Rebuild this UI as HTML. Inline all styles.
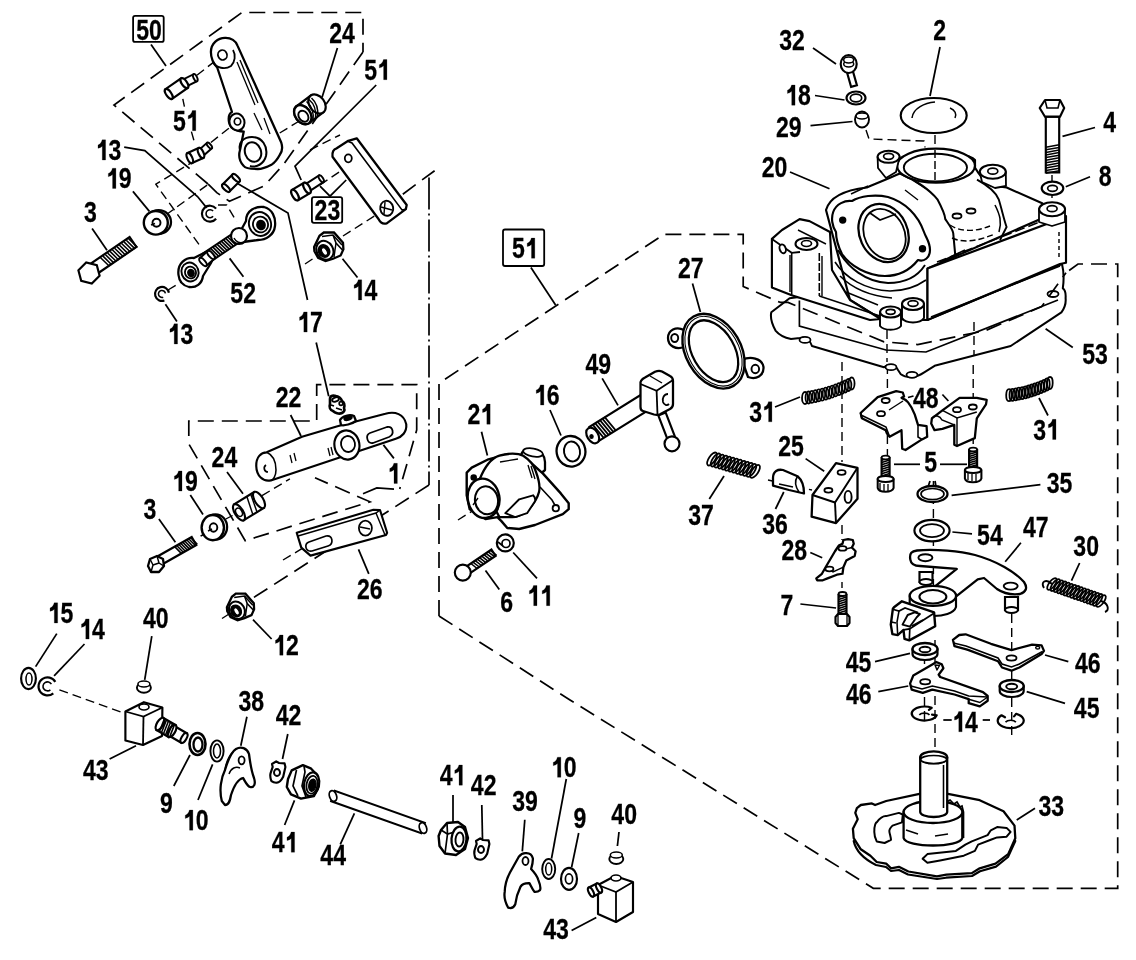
<!DOCTYPE html>
<html><head><meta charset="utf-8"><style>
html,body{margin:0;padding:0;background:#fff;overflow:hidden;}
svg{display:block;filter:grayscale(1)}
text{font-family:"Liberation Sans",sans-serif;font-weight:bold;fill:#000;}
</style></head><body>
<svg width="1136" height="960" viewBox="0 0 1136 960">
<rect width="1136" height="960" fill="#fff"/>
<path d="M208.0,184.0 L114.0,105.0 L242.0,12.5 L363.0,12.5 L363.0,52.0" fill="none" stroke="#000" stroke-width="1.7" stroke-dasharray="16 8"/>
<path d="M363.0,52.0 L283.6,164.5 L264.3,185.8 L229.4,201.3 L216.8,192.6 L208.0,184.0" fill="none" stroke="#000" stroke-width="1.7" stroke-dasharray="16 8"/>
<path d="M429.0,177.5 L429.0,485.0" fill="none" stroke="#000" stroke-width="1.7" stroke-dasharray="32 4 2 4"/>
<path d="M402.8,194.2 L434.6,170.7" fill="none" stroke="#000" stroke-width="1.7" stroke-dasharray="16 8"/>
<path d="M429.0,485.0 L239.7,606.5" fill="none" stroke="#000" stroke-width="1.7" stroke-dasharray="16 8"/>
<path d="M188.8,436.0 L188.8,421.0 L316.7,421.0 L316.7,384.6 L416.7,384.6 L416.7,430.0 L399.7,489.0" fill="none" stroke="#000" stroke-width="1.7" stroke-dasharray="16 8"/>
<path d="M189.2,444.6 L245.2,540.7 L370.0,501.8 L315.0,477.8" fill="none" stroke="#000" stroke-width="1.7" stroke-dasharray="16 8"/>
<path d="M439.0,616.0 L439.0,383.2 L664.0,234.3 L743.2,234.3 L743.2,286.5 L780.0,302.4" fill="none" stroke="#000" stroke-width="1.7" stroke-dasharray="16 8"/>
<path d="M439.0,616.0 L570.0,700.0 L873.3,888.3 L1117.7,888.3 L1117.7,264.0 L1078.0,264.0 L1066.0,272.7" fill="none" stroke="#000" stroke-width="1.7" stroke-dasharray="16 8"/>
<path d="M151.0,44.5 L166.0,66.0" fill="none" stroke="#000" stroke-width="1.75"/>
<path d="M337.4,48.0 L322.0,97.5" fill="none" stroke="#000" stroke-width="1.75"/>
<path d="M376.2,85.0 L295.0,166.2 L301.2,180.0" fill="none" stroke="#000" stroke-width="1.75"/>
<path d="M124.2,147.2 L144.8,150.6 L197.5,196.5 L206.7,207.9" fill="none" stroke="#000" stroke-width="1.75"/>
<path d="M132.9,191.4 L149.4,211.4" fill="none" stroke="#000" stroke-width="1.75"/>
<path d="M92.1,228.6 L107.0,250.3" fill="none" stroke="#000" stroke-width="1.75"/>
<path d="M320.0,186.2 L330.0,196.2 L346.2,180.0" fill="none" stroke="#000" stroke-width="1.75"/>
<path d="M342.5,258.7 L357.5,277.5" fill="none" stroke="#000" stroke-width="1.75"/>
<path d="M229.6,258.4 L243.4,276.7" fill="none" stroke="#000" stroke-width="1.75"/>
<path d="M165.4,304.2 L176.9,321.4" fill="none" stroke="#000" stroke-width="1.75"/>
<path d="M235.0,182.0 L288.0,213.0 L307.5,300.0" fill="none" stroke="#000" stroke-width="1.75"/>
<path d="M316.2,342.5 L328.7,396.2" fill="none" stroke="#000" stroke-width="1.75"/>
<path d="M290.6,415.0 L301.0,436.0" fill="none" stroke="#000" stroke-width="1.75"/>
<path d="M227.0,472.0 L243.0,493.8" fill="none" stroke="#000" stroke-width="1.75"/>
<path d="M190.3,495.0 L203.0,514.4" fill="none" stroke="#000" stroke-width="1.75"/>
<path d="M158.9,519.1 L175.4,542.2" fill="none" stroke="#000" stroke-width="1.75"/>
<path d="M383.4,444.9 L393.9,458.4" fill="none" stroke="#000" stroke-width="1.75"/>
<path d="M394.0,489.2 L376.8,488.0 L363.0,493.8" fill="none" stroke="#000" stroke-width="1.75"/>
<path d="M358.5,549.4 L368.8,573.9" fill="none" stroke="#000" stroke-width="1.75"/>
<path d="M253.0,619.7 L271.6,639.0" fill="none" stroke="#000" stroke-width="1.75"/>
<path d="M56.8,633.6 L35.6,666.6" fill="none" stroke="#000" stroke-width="1.75"/>
<path d="M84.5,644.0 L54.1,675.8" fill="none" stroke="#000" stroke-width="1.75"/>
<path d="M151.8,636.2 L144.7,679.8" fill="none" stroke="#000" stroke-width="1.75"/>
<path d="M109.6,759.0 L136.0,745.8" fill="none" stroke="#000" stroke-width="1.75"/>
<path d="M190.0,755.0 L173.8,786.0" fill="none" stroke="#000" stroke-width="1.75"/>
<path d="M212.6,764.3 L198.0,800.0" fill="none" stroke="#000" stroke-width="1.75"/>
<path d="M246.9,716.7 L240.8,745.8" fill="none" stroke="#000" stroke-width="1.75"/>
<path d="M287.8,734.0 L282.5,759.0" fill="none" stroke="#000" stroke-width="1.75"/>
<path d="M294.5,800.4 L284.6,825.0" fill="none" stroke="#000" stroke-width="1.75"/>
<path d="M354.4,813.4 L340.3,844.4" fill="none" stroke="#000" stroke-width="1.75"/>
<path d="M453.0,795.0 L453.0,823.0" fill="none" stroke="#000" stroke-width="1.75"/>
<path d="M481.8,805.0 L482.5,839.0" fill="none" stroke="#000" stroke-width="1.75"/>
<path d="M524.8,819.7 L522.3,851.4" fill="none" stroke="#000" stroke-width="1.75"/>
<path d="M566.3,779.0 L551.5,858.5" fill="none" stroke="#000" stroke-width="1.75"/>
<path d="M578.7,833.0 L571.6,867.3" fill="none" stroke="#000" stroke-width="1.75"/>
<path d="M619.0,832.0 L617.4,846.0" fill="none" stroke="#000" stroke-width="1.75"/>
<path d="M571.6,930.6 L596.3,917.6" fill="none" stroke="#000" stroke-width="1.75"/>
<path d="M530.9,267.5 L555.6,305.0" fill="none" stroke="#000" stroke-width="1.75"/>
<path d="M692.5,283.4 L700.4,311.9" fill="none" stroke="#000" stroke-width="1.75"/>
<path d="M602.2,378.4 L618.0,405.4" fill="none" stroke="#000" stroke-width="1.75"/>
<path d="M550.0,410.0 L561.0,435.5" fill="none" stroke="#000" stroke-width="1.75"/>
<path d="M481.5,431.7 L487.4,455.5" fill="none" stroke="#000" stroke-width="1.75"/>
<path d="M513.2,552.5 L537.0,578.3" fill="none" stroke="#000" stroke-width="1.75"/>
<path d="M485.5,570.4 L499.3,589.4" fill="none" stroke="#000" stroke-width="1.75"/>
<path d="M724.0,476.0 L709.3,499.0" fill="none" stroke="#000" stroke-width="1.75"/>
<path d="M783.8,492.0 L775.5,509.0" fill="none" stroke="#000" stroke-width="1.75"/>
<path d="M805.6,458.6 L824.2,471.3" fill="none" stroke="#000" stroke-width="1.75"/>
<path d="M810.3,552.5 L822.2,557.7" fill="none" stroke="#000" stroke-width="1.75"/>
<path d="M800.4,604.0 L836.1,608.0" fill="none" stroke="#000" stroke-width="1.75"/>
<path d="M775.0,407.0 L800.0,397.0" fill="none" stroke="#000" stroke-width="1.75"/>
<path d="M1039.0,398.0 L1048.0,415.5" fill="none" stroke="#000" stroke-width="1.75"/>
<path d="M908.0,397.5 L913.5,396.0" fill="none" stroke="#000" stroke-width="1.75"/>
<path d="M942.4,394.5 L948.4,401.0" fill="none" stroke="#000" stroke-width="1.75"/>
<path d="M894.0,464.3 L920.0,464.3" fill="none" stroke="#000" stroke-width="1.75"/>
<path d="M940.0,464.3 L967.0,464.3" fill="none" stroke="#000" stroke-width="1.75"/>
<path d="M951.6,495.4 L1040.4,484.6" fill="none" stroke="#000" stroke-width="1.75"/>
<path d="M952.4,532.0 L972.0,533.8" fill="none" stroke="#000" stroke-width="1.75"/>
<path d="M1020.9,542.8 L1005.2,561.7" fill="none" stroke="#000" stroke-width="1.75"/>
<path d="M1079.6,563.0 L1071.5,580.7" fill="none" stroke="#000" stroke-width="1.75"/>
<path d="M875.0,661.7 L910.0,653.3" fill="none" stroke="#000" stroke-width="1.75"/>
<path d="M878.3,691.7 L908.3,686.0" fill="none" stroke="#000" stroke-width="1.75"/>
<path d="M943.3,720.0 L951.7,720.0" fill="none" stroke="#000" stroke-width="1.75"/>
<path d="M982.7,720.0 L990.0,720.0" fill="none" stroke="#000" stroke-width="1.75"/>
<path d="M1045.0,655.0 L1068.3,661.7" fill="none" stroke="#000" stroke-width="1.75"/>
<path d="M1026.7,691.7 L1065.0,703.3" fill="none" stroke="#000" stroke-width="1.75"/>
<path d="M1016.7,820.0 L1035.0,808.3" fill="none" stroke="#000" stroke-width="1.75"/>
<path d="M813.0,48.0 L836.0,64.0" fill="none" stroke="#000" stroke-width="1.75"/>
<path d="M815.0,95.5 L844.5,100.0" fill="none" stroke="#000" stroke-width="1.75"/>
<path d="M810.5,125.7 L852.5,121.5" fill="none" stroke="#000" stroke-width="1.75"/>
<path d="M940.0,47.0 L930.0,96.0" fill="none" stroke="#000" stroke-width="1.75"/>
<path d="M790.0,172.0 L829.5,188.7" fill="none" stroke="#000" stroke-width="1.75"/>
<path d="M1062.5,136.3 L1095.0,127.5" fill="none" stroke="#000" stroke-width="1.75"/>
<path d="M1065.8,186.7 L1090.0,176.7" fill="none" stroke="#000" stroke-width="1.75"/>
<path d="M1045.6,328.8 L1072.8,347.5" fill="none" stroke="#000" stroke-width="1.75"/>
<path d="M196.9,75.3 L218.8,58.1" fill="none" stroke="#000" stroke-width="1.4" stroke-dasharray="9 5"/>
<path d="M182.8,98.8 L184.4,106.6" fill="none" stroke="#000" stroke-width="1.4" stroke-dasharray="9 5"/>
<path d="M191.4,131.6 L194.5,142.5" fill="none" stroke="#000" stroke-width="1.4" stroke-dasharray="9 5"/>
<path d="M210.9,142.5 L234.4,123.8" fill="none" stroke="#000" stroke-width="1.4" stroke-dasharray="9 5"/>
<path d="M165.8,215.0 L208.3,184.2" fill="none" stroke="#000" stroke-width="1.4" stroke-dasharray="9 5"/>
<path d="M279.7,133.0 L300.0,120.6" fill="none" stroke="#000" stroke-width="1.4" stroke-dasharray="9 5"/>
<path d="M196.0,160.0 L155.8,184.2 L201.7,248.3" fill="none" stroke="#000" stroke-width="1.4" stroke-dasharray="9 5"/>
<path d="M218.0,205.0 L226.7,205.0 L236.7,221.7" fill="none" stroke="#000" stroke-width="1.4" stroke-dasharray="9 5"/>
<path d="M168.0,290.0 L186.0,279.0" fill="none" stroke="#000" stroke-width="1.4" stroke-dasharray="9 5"/>
<path d="M310.0,150.0 L340.0,135.0" fill="none" stroke="#000" stroke-width="1.4" stroke-dasharray="9 5"/>
<path d="M320.0,185.0 L345.0,168.0" fill="none" stroke="#000" stroke-width="1.4" stroke-dasharray="9 5"/>
<path d="M343.0,236.0 L380.0,212.5" fill="none" stroke="#000" stroke-width="1.4" stroke-dasharray="9 5"/>
<path d="M305.0,264.0 L314.0,258.0" fill="none" stroke="#000" stroke-width="1.4" stroke-dasharray="9 5"/>
<path d="M222.0,618.5 L229.0,614.0" fill="none" stroke="#000" stroke-width="1.4" stroke-dasharray="9 5"/>
<path d="M866.0,130.0 L869.0,139.0 L924.0,141.0 L925.0,147.5" fill="none" stroke="#000" stroke-width="1.4" stroke-dasharray="9 5"/>
<path d="M935.0,135.0 L935.0,180.0" fill="none" stroke="#000" stroke-width="1.4" stroke-dasharray="9 5"/>
<path d="M1052.0,175.0 L1052.0,210.0" fill="none" stroke="#000" stroke-width="1.4" stroke-dasharray="9 5"/>
<path d="M200.6,536.0 L212.0,530.4" fill="none" stroke="#000" stroke-width="1.4" stroke-dasharray="9 5"/>
<path d="M225.8,519.0 L232.6,515.5" fill="none" stroke="#000" stroke-width="1.4" stroke-dasharray="9 5"/>
<path d="M262.0,495.6 L289.9,478.9" fill="none" stroke="#000" stroke-width="1.4" stroke-dasharray="9 5"/>
<path d="M283.0,560.0 L308.0,545.0" fill="none" stroke="#000" stroke-width="1.4" stroke-dasharray="9 5"/>
<path d="M59.4,689.8 L122.8,712.8" fill="none" stroke="#000" stroke-width="1.4" stroke-dasharray="9 5"/>
<path d="M458.0,520.0 L485.0,503.0" fill="none" stroke="#000" stroke-width="1.4" stroke-dasharray="9 5"/>
<path d="M842.0,362.0 L842.0,462.0" fill="none" stroke="#000" stroke-width="1.4" stroke-dasharray="9 5"/>
<path d="M842.0,525.0 L842.0,540.0" fill="none" stroke="#000" stroke-width="1.4" stroke-dasharray="9 5"/>
<path d="M842.0,582.0 L842.0,588.0" fill="none" stroke="#000" stroke-width="1.4" stroke-dasharray="9 5"/>
<path d="M887.4,365.0 L887.4,460.0" fill="none" stroke="#000" stroke-width="1.4" stroke-dasharray="9 5"/>
<path d="M973.2,365.0 L973.2,450.0" fill="none" stroke="#000" stroke-width="1.4" stroke-dasharray="9 5"/>
<path d="M933.4,481.0 L933.4,595.0" fill="none" stroke="#000" stroke-width="1.4" stroke-dasharray="9 5"/>
<path d="M935.0,640.0 L935.0,750.0" fill="none" stroke="#000" stroke-width="1.4" stroke-dasharray="9 5"/>
<path d="M924.5,655.0 L924.5,722.0" fill="none" stroke="#000" stroke-width="1.4" stroke-dasharray="9 5"/>
<path d="M1011.7,600.0 L1011.7,740.0" fill="none" stroke="#000" stroke-width="1.4" stroke-dasharray="9 5"/>
<path d="M768.0,480.0 L812.0,490.0" fill="none" stroke="#000" stroke-width="1.4" stroke-dasharray="9 5"/>
<path d="M210.9,52 C211,43 218,38 225,37.8 C231,37.5 236,41 237.5,45.6 L281.25,142.5 C283,148 282,152 279.7,155 C277,160 274,163 271.9,164.4 C265,168 262,169 257.8,169 C250,169 245,168 243.75,166 C240,162 238,157 240,150 L243.75,131.6 C236,131 230,128 229,122 C228,116 230,113 232,112 L217.2,67.5 C213,63 210.9,58 210.9,52 Z" fill="#fff" stroke="#000" stroke-width="2.28" stroke-linejoin="round" stroke-linecap="round" />
<path d="M213,62 C216,68 225,70 231,66 C235,62 236,55 233,50" fill="none" stroke="#000" stroke-width="1.80"/>
<ellipse cx="222.5" cy="55" rx="4.5" ry="5" transform="rotate(-20 222.5 55)" fill="#fff" stroke="#000" stroke-width="1.80"/>
<ellipse cx="237" cy="122" rx="7.5" ry="8.5" transform="rotate(-15 237 122)" fill="#fff" stroke="#000" stroke-width="2.04"/>
<ellipse cx="237.5" cy="121.5" rx="3.2" ry="3.5" transform="rotate(0 237.5 121.5)" fill="#fff" stroke="#000" stroke-width="1.68"/>
<path d="M240,150 C238,142 244,137 252,137 C262,137 268,146 266,156 C264,164 256,168 250,166" fill="none" stroke="#000" stroke-width="2.04"/>
<ellipse cx="253" cy="152" rx="8" ry="10" transform="rotate(-20 253 152)" fill="#fff" stroke="#000" stroke-width="2.04"/>
<path d="M237.0,62.0 L255.0,105.0" fill="none" stroke="#000" stroke-width="1.32"/>
<path d="M240.0,60.0 L258.0,103.0" fill="none" stroke="#000" stroke-width="1.32"/>
<path d="M254.0,113.0 L262.0,130.0" fill="none" stroke="#000" stroke-width="1.32"/>
<path d="M264.0,118.0 L270.0,134.0" fill="none" stroke="#000" stroke-width="1.32"/>
<path d="M186.1,86.6 L197.0,81.2 L193.6,74.2 L182.7,79.6 Z" fill="#fff" stroke="#000" stroke-width="1.92"/>
<ellipse cx="195.3" cy="77.7" rx="1.755" ry="3.9" transform="rotate(-26.35440587792256 195.3 77.7)" fill="#fff" stroke="#000" stroke-width="1.92"/>
<ellipse cx="184.4" cy="83.1" rx="1.755" ry="3.9" transform="rotate(-26.35440587792256 184.4 83.1)" fill="#fff" stroke="#000" stroke-width="1.92"/>
<path d="M172.1,98.8 L187.7,87.9 L181.1,78.3 L165.4,89.2 Z" fill="#fff" stroke="#000" stroke-width="2.16"/>
<ellipse cx="184.4" cy="83.1" rx="2.61" ry="5.8" transform="rotate(-34.85665671014842 184.4 83.1)" fill="#fff" stroke="#000" stroke-width="2.16"/>
<ellipse cx="168.75" cy="94" rx="2.61" ry="5.8" transform="rotate(-34.85665671014842 168.75 94)" fill="#fff" stroke="#000" stroke-width="2.16"/>
<path d="M203.4,155.7 L211.8,148.3 L207.0,142.9 L198.6,150.3 Z" fill="#fff" stroke="#000" stroke-width="1.92"/>
<ellipse cx="209.4" cy="145.6" rx="1.62" ry="3.6" transform="rotate(-41.378515295882664 209.4 145.6)" fill="#fff" stroke="#000" stroke-width="1.92"/>
<ellipse cx="201" cy="153" rx="1.62" ry="3.6" transform="rotate(-41.378515295882664 201 153)" fill="#fff" stroke="#000" stroke-width="1.92"/>
<path d="M192.1,163.1 L203.3,158.0 L198.7,148.0 L187.5,153.1 Z" fill="#fff" stroke="#000" stroke-width="2.16"/>
<ellipse cx="201" cy="153" rx="2.475" ry="5.5" transform="rotate(-24.482485897347104 201 153)" fill="#fff" stroke="#000" stroke-width="2.16"/>
<ellipse cx="189.8" cy="158.1" rx="2.475" ry="5.5" transform="rotate(-24.482485897347104 189.8 158.1)" fill="#fff" stroke="#000" stroke-width="2.16"/>
<path d="M309.1,123.1 L323.3,112.4 L310.7,95.6 L296.5,106.3 Z" fill="#fff" stroke="#000" stroke-width="2.16"/>
<ellipse cx="317" cy="104" rx="7.56" ry="10.5" transform="rotate(-36.99879681986186 317 104)" fill="#fff" stroke="#000" stroke-width="2.16"/>
<ellipse cx="302.8" cy="114.7" rx="7.56" ry="10.5" transform="rotate(-36.99879681986186 302.8 114.7)" fill="#fff" stroke="#000" stroke-width="2.16"/>
<path d="M306.5,101.5 C312,106 314,113 313,121 M309,99.5 C314.5,104 316.5,111 315.5,119 M311.5,98 C316.5,102.5 318.5,109 317.5,116.5" fill="none" stroke="#000" stroke-width="1.5"/>
<ellipse cx="302.8" cy="114.7" rx="7.56" ry="10.5" transform="rotate(-37 302.8 114.7)" fill="#fff" stroke="#000" stroke-width="2.40"/>
<ellipse cx="303.4" cy="116.2" rx="4.5" ry="6" transform="rotate(-37 303.4 116.2)" fill="#fff" stroke="#000" stroke-width="1.92"/>
<path d="M229.5,191.5 L239.5,181.5 L232.5,174.5 L222.5,184.5 Z" fill="#fff" stroke="#000" stroke-width="2.16"/>
<ellipse cx="236" cy="178" rx="2.25" ry="5" transform="rotate(-45.0 236 178)" fill="#fff" stroke="#000" stroke-width="2.16"/>
<ellipse cx="226" cy="188" rx="2.25" ry="5" transform="rotate(-45.0 226 188)" fill="#fff" stroke="#000" stroke-width="2.16"/>
<path d="M332.5,156.7 C332,152 334,149 336.7,148.3 L348.3,140.8 L356.7,138.3 L406.7,205 L405.8,209.2 L386.7,223.3 C383,224.5 380,222 378.5,219 Z" fill="#fff" stroke="#000" stroke-width="2.28" stroke-linejoin="round" stroke-linecap="round" />
<path d="M348.3,141.5 L352.0,143.0 L402.0,210.0 L405.8,209.2" fill="none" stroke="#000" stroke-width="1.56"/>
<ellipse cx="348.3" cy="158.3" rx="3.5" ry="4" transform="rotate(0 348.3 158.3)" fill="#fff" stroke="#000" stroke-width="1.80"/>
<ellipse cx="386.7" cy="208.3" rx="6.5" ry="7.5" transform="rotate(-10 386.7 208.3)" fill="#fff" stroke="#000" stroke-width="1.92"/>
<path d="M381.0,207.0 L392.0,210.0" fill="none" stroke="#000" stroke-width="1.44"/>
<path d="M385.0,202.0 L384.0,214.0" fill="none" stroke="#000" stroke-width="1.44"/>
<path d="M309.2,191.4 L323.4,182.1 L319.1,175.4 L304.8,184.6 Z" fill="#fff" stroke="#000" stroke-width="1.92"/>
<ellipse cx="321.25" cy="178.75" rx="1.8" ry="4" transform="rotate(-32.98852161363456 321.25 178.75)" fill="#fff" stroke="#000" stroke-width="1.92"/>
<ellipse cx="307" cy="188" rx="1.8" ry="4" transform="rotate(-32.98852161363456 307 188)" fill="#fff" stroke="#000" stroke-width="1.92"/>
<path d="M298.0,200.2 L310.0,193.2 L304.0,182.8 L292.0,189.8 Z" fill="#fff" stroke="#000" stroke-width="2.16"/>
<ellipse cx="307" cy="188" rx="2.7" ry="6" transform="rotate(-30.256437163529263 307 188)" fill="#fff" stroke="#000" stroke-width="2.16"/>
<ellipse cx="295" cy="195" rx="2.7" ry="6" transform="rotate(-30.256437163529263 295 195)" fill="#fff" stroke="#000" stroke-width="2.16"/>
<path d="M314.1,247.0 L319.5,235.8 L323.8,232.5 L334.0,232.5 L343.0,242.8 L343.4,249.4 L340.6,255.5 L333.1,258.8 L325.6,261.1 L318.1,257.8 L314.4,251.2 Z" fill="#fff" stroke="#000" stroke-width="2.28"/>
<path d="M322.0,236.5 L333.0,235.0 L342.0,245.0" fill="none" stroke="#000" stroke-width="1.56"/>
<path d="M333.0,235.0 L336.0,243.0 L342.5,250.0" fill="none" stroke="#000" stroke-width="1.56"/>
<path d="M336.0,243.0 L334.0,257.0" fill="none" stroke="#000" stroke-width="1.44"/>
<ellipse cx="324.9" cy="250.3" rx="8.2" ry="9.8" transform="rotate(-30 324.9 250.3)" fill="#fff" stroke="#000" stroke-width="2.04"/>
<ellipse cx="324.0" cy="251.0" rx="5.4" ry="6.3" transform="rotate(-30 324.0 251.0)" fill="#000" stroke="#000" stroke-width="1.68"/>
<ellipse cx="324.5" cy="251.5" rx="2.4" ry="4.2" transform="rotate(-30 324.5 251.5)" fill="#fff" stroke="#000" stroke-width="1.20"/>
<ellipse cx="158.6" cy="222" rx="12.4" ry="11.8" transform="rotate(0 158.6 222)" fill="#fff" stroke="#000" stroke-width="2.28"/>
<ellipse cx="155.8" cy="222.8" rx="12" ry="11.8" transform="rotate(0 155.8 222.8)" fill="#fff" stroke="#000" stroke-width="2.40"/>
<ellipse cx="156.5" cy="222.8" rx="4" ry="4" transform="rotate(0 156.5 222.8)" fill="#fff" stroke="#000" stroke-width="1.92"/>
<path d="M151.0,225.0 L155.0,223.5" fill="none" stroke="#000" stroke-width="1.44"/>
<path d="M98.4,273.0 L136.4,247.0 L129.6,237.0 L91.6,263.0 Z" fill="#fff" stroke="#000" stroke-width="2.16"/>
<path d="M109.4,266.3 L100.6,257.7 M111.7,264.7 L103.0,256.1 M114.0,263.1 L105.3,254.5 M116.4,261.5 L107.6,253.0 M118.7,260.0 L110.0,251.4 M121.0,258.4 L112.3,249.8 M123.4,256.8 L114.6,248.2 M125.7,255.2 L117.0,246.6 M128.0,253.6 L119.3,245.0 M130.4,252.0 L121.6,243.5 M132.7,250.5 L124.0,241.9 M135.0,248.9 L126.3,240.3 M137.4,247.3 L128.6,238.7" stroke="#000" stroke-width="1.56" fill="none"/>
<path d="M99.6,275.8 L91.8,283.6 L81.2,280.8 L78.4,270.2 L86.2,262.4 L96.8,265.2 Z" fill="#fff" stroke="#000" stroke-width="2.16"/>
<path d="M216.1,218.8 A8,8 0 1 1 216.1,208.6" fill="none" stroke="#000" stroke-width="2.16"/>
<path d="M213.1,216.3 A4.0,4.0 0 1 1 213.1,211.1" fill="none" stroke="#000" stroke-width="1.56"/>
<path d="M210.0,261.9 L202.0,254.1 M212.4,260.4 L204.3,252.6 M214.7,258.8 L206.6,251.0 M217.0,257.3 L208.9,249.5 M219.3,255.8 L211.2,247.9 M221.6,254.2 L213.5,246.4 M223.9,252.7 L215.8,244.9 M226.2,251.1 L218.1,243.3 M228.5,249.6 L220.4,241.8 M230.8,248.1 L222.7,240.2 M233.1,246.5 L225.0,238.7 M235.4,245.0 L227.3,237.2 M237.7,243.4 L229.6,235.6 M240.0,241.9 L232.0,234.1" stroke="#000" stroke-width="1.68" fill="none"/>
<path d="M209.1,262.6 L239.1,242.6 L232.9,233.4 L202.9,253.4 Z" fill="#fff" stroke="#000" stroke-width="1.92"/>
<path d="M212.0,260.4 L204.0,252.6 M214.2,259.0 L206.2,251.1 M216.3,257.6 L208.3,249.7 M218.5,256.2 L210.5,248.3 M220.7,254.8 L212.7,246.9 M222.8,253.4 L214.8,245.5 M225.0,251.9 L217.0,244.1 M227.2,250.5 L219.2,242.6 M229.3,249.1 L221.3,241.2 M231.5,247.7 L223.5,239.8 M233.7,246.3 L225.7,238.4 M235.8,244.9 L227.8,237.0 M238.0,243.4 L230.0,235.6" stroke="#000" stroke-width="1.68" fill="none"/>
<path d="M246,221 C246,210 256,206 264,207 C272,209 276,217 275,226 C274,235 266,240 258,240 L243,242 C238,242 236,236 240,232 Z" fill="#fff" stroke="#000" stroke-width="2.28" stroke-linejoin="round" stroke-linecap="round" />
<ellipse cx="260" cy="224" rx="11" ry="12" transform="rotate(-20 260 224)" fill="#fff" stroke="#000" stroke-width="1.92"/>
<ellipse cx="260.5" cy="224.5" rx="7.5" ry="8" transform="rotate(-20 260.5 224.5)" fill="#fff" stroke="#000" stroke-width="1.80"/>
<ellipse cx="261" cy="225" rx="4" ry="4.5" transform="rotate(-20 261 225)" fill="#000" stroke="#000" stroke-width="1.68"/>
<ellipse cx="239" cy="236" rx="8" ry="8" transform="rotate(0 239 236)" fill="#fff" stroke="#000" stroke-width="2.16"/>
<path d="M234,238 C236,242 240,244 244,242" fill="none" stroke="#000" stroke-width="1.44"/>
<path d="M178.5,275 C177,263 186,257 194,258 L206,252 C212,252 214,258 211,263 L203,276 C202,284 196,288 189,287 C183,286 179,281 178.5,275 Z" fill="#fff" stroke="#000" stroke-width="2.28" stroke-linejoin="round" stroke-linecap="round" />
<ellipse cx="190" cy="272" rx="8.5" ry="9.5" transform="rotate(-20 190 272)" fill="#fff" stroke="#000" stroke-width="1.92"/>
<ellipse cx="190.5" cy="272.5" rx="5.5" ry="6" transform="rotate(-20 190.5 272.5)" fill="#fff" stroke="#000" stroke-width="1.80"/>
<ellipse cx="191" cy="273" rx="3" ry="3.5" transform="rotate(-20 191 273)" fill="#000" stroke="#000" stroke-width="1.68"/>
<path d="M206.3,265.8 L214.3,258.8 L207.7,251.2 L199.7,258.2 Z" fill="#fff" stroke="#000" stroke-width="1.92"/>
<ellipse cx="211" cy="255" rx="2.25" ry="5" transform="rotate(-41.18592516570965 211 255)" fill="#fff" stroke="#000" stroke-width="1.92"/>
<ellipse cx="203" cy="262" rx="2.25" ry="5" transform="rotate(-41.18592516570965 203 262)" fill="#fff" stroke="#000" stroke-width="1.92"/>
<path d="M164.4,300.5 A7,7 0 1 1 168.9,292.7" fill="none" stroke="#000" stroke-width="2.16"/>
<path d="M163.2,297.2 A3.5,3.5 0 1 1 165.4,293.3" fill="none" stroke="#000" stroke-width="1.56"/>
<path d="M256.25,466 C256,457 261,452.5 266.7,452.3 L302,436.7 L337.5,426.25 L385.4,413.75 C395,411 404,414 406.25,424.2 C407,432 402,437 395.8,438.75 L339.6,457.5 L270.8,480.4 C263,482 256.5,476 256.25,466 Z" fill="#fff" stroke="#000" stroke-width="2.16" stroke-linejoin="round" stroke-linecap="round" />
<path d="M266.7,452.3 C273,455 276,462 276,470 C276,476 273,480 270.8,480.4" fill="none" stroke="#000" stroke-width="1.56"/>
<ellipse cx="346.9" cy="445" rx="12.5" ry="14.6" transform="rotate(-10 346.9 445)" fill="#fff" stroke="#000" stroke-width="2.16"/>
<ellipse cx="348" cy="444" rx="7" ry="8" transform="rotate(-10 348 444)" fill="#fff" stroke="#000" stroke-width="1.80"/>
<path d="M370,433 L387,427 C393,426 395,434 389,437 L373,443 C367,444 365,435 370,433 Z" fill="#fff" stroke="#000" stroke-width="1.80" stroke-linejoin="round" stroke-linecap="round" />
<path d="M266,465 C263,467 264,472 268,472" fill="none" stroke="#000" stroke-width="1.68"/>
<path d="M290.0,455.0 L292.0,463.0" fill="none" stroke="#000" stroke-width="1.32"/>
<path d="M294.0,453.0 L296.0,461.0" fill="none" stroke="#000" stroke-width="1.32"/>
<path d="M328.0,448.0 L330.0,456.0" fill="none" stroke="#000" stroke-width="1.32"/>
<path d="M331.0,447.0 L333.0,455.0" fill="none" stroke="#000" stroke-width="1.32"/>
<path d="M340,420 C342,416 350,414 354,416 L356,421 C352,424 344,426 341,425 Z" fill="#fff" stroke="#000" stroke-width="2.28" stroke-linejoin="round" stroke-linecap="round" />
<ellipse cx="348" cy="418" rx="4" ry="2" transform="rotate(-15 348 418)" fill="#000" stroke="#000" stroke-width="1.68"/>
<path d="M330,399 C330,395 334,395.5 336,396 C339,396.5 341,398 342,401 C344,402 345,405 344,408 C345,410 344,412 342,413 C339,414.5 335,413 333,411 C330,410 329,407 330,404 Z" fill="#fff" stroke="#000" stroke-width="2.64" stroke-linejoin="round" stroke-linecap="round" />
<ellipse cx="335.5" cy="399.5" rx="3.5" ry="2" transform="rotate(-20 335.5 399.5)" fill="#fff" stroke="#000" stroke-width="1.92"/>
<ellipse cx="341" cy="403.5" rx="1.8" ry="1.8" transform="rotate(0 341 403.5)" fill="#fff" stroke="#000" stroke-width="1.68"/>
<path d="M336.0,408.0 L342.0,410.0" fill="none" stroke="#000" stroke-width="1.68"/>
<path d="M331.0,405.0 L334.0,406.0" fill="none" stroke="#000" stroke-width="1.68"/>
<path d="M243.9,520.2 L263.9,507.9 L254.1,492.1 L234.1,504.4 Z" fill="#fff" stroke="#000" stroke-width="2.16"/>
<ellipse cx="259" cy="500" rx="4.1850000000000005" ry="9.3" transform="rotate(-31.5915157010406 259 500)" fill="#fff" stroke="#000" stroke-width="2.16"/>
<ellipse cx="239" cy="512.3" rx="4.1850000000000005" ry="9.3" transform="rotate(-31.5915157010406 239 512.3)" fill="#fff" stroke="#000" stroke-width="2.16"/>
<ellipse cx="239" cy="512.3" rx="3" ry="4.5" transform="rotate(-30 239 512.3)" fill="#fff" stroke="#000" stroke-width="1.56"/>
<path d="M247.0,497.0 L253.0,515.0" fill="none" stroke="#000" stroke-width="1.44"/>
<path d="M251.0,495.0 L257.0,512.0" fill="none" stroke="#000" stroke-width="1.44"/>
<ellipse cx="215.5" cy="527" rx="11.6" ry="12.6" transform="rotate(0 215.5 527)" fill="#fff" stroke="#000" stroke-width="2.28"/>
<ellipse cx="212.8" cy="527.6" rx="11.2" ry="12.6" transform="rotate(0 212.8 527.6)" fill="#fff" stroke="#000" stroke-width="2.40"/>
<ellipse cx="213.5" cy="527.5" rx="3.8" ry="4.2" transform="rotate(0 213.5 527.5)" fill="#fff" stroke="#000" stroke-width="1.92"/>
<path d="M208.0,531.0 L212.0,529.0" fill="none" stroke="#000" stroke-width="1.44"/>
<path d="M159.3,566.0 L196.3,545.0 L191.7,537.0 L154.7,558.0 Z" fill="#fff" stroke="#000" stroke-width="2.16"/>
<path d="M181.3,553.4 L174.7,546.6 M183.3,552.3 L176.7,545.5 M185.3,551.2 L178.7,544.3 M187.3,550.0 L180.7,543.2 M189.3,548.9 L182.7,542.1 M191.3,547.8 L184.7,541.0 M193.3,546.7 L186.7,539.8 M195.3,545.5 L188.7,538.7 M197.3,544.4 L190.7,537.6" stroke="#000" stroke-width="1.56" fill="none"/>
<path d="M148,566 L150,559 L157,556 L163,559 L164,566 L159,572 L151,572 Z" fill="#fff" stroke="#000" stroke-width="2.28" stroke-linejoin="round" stroke-linecap="round" />
<path d="M150.0,559.0 L153.0,565.0 L151.0,572.0" fill="none" stroke="#000" stroke-width="1.44"/>
<path d="M157.0,556.0 L159.0,563.0 L164.0,566.0" fill="none" stroke="#000" stroke-width="1.44"/>
<path d="M153.0,565.0 L159.0,563.0" fill="none" stroke="#000" stroke-width="1.44"/>
<path d="M296.7,532.7 L373.4,509.8 L380,510 L387.1,532.7 L386,535 L310.5,555.6 L301.3,547.6 Z" fill="#fff" stroke="#000" stroke-width="2.16" stroke-linejoin="round" stroke-linecap="round" />
<path d="M298.0,536.0 L376.0,513.0 L380.0,510.0" fill="none" stroke="#000" stroke-width="1.56"/>
<path d="M376.0,513.0 L385.0,535.0" fill="none" stroke="#000" stroke-width="1.44"/>
<path d="M309,542 L326,536 C333,535 334,544 328,546 L312,551 C305,552 304,544 309,542 Z" fill="#fff" stroke="#000" stroke-width="1.68" stroke-linejoin="round" stroke-linecap="round" />
<ellipse cx="365.4" cy="528.1" rx="6.5" ry="7.5" transform="rotate(0 365.4 528.1)" fill="#fff" stroke="#000" stroke-width="1.80"/>
<path d="M360.0,527.0 L370.0,529.0" fill="none" stroke="#000" stroke-width="1.32"/>
<path d="M226.9,607.2 L231.9,596.8 L235.8,593.7 L245.4,593.7 L253.8,603.3 L254.1,609.4 L251.5,615.1 L244.5,618.1 L237.6,620.3 L230.6,617.2 L227.2,611.1 Z" fill="#fff" stroke="#000" stroke-width="2.28"/>
<path d="M234.2,597.4 L244.5,596.0 L252.8,605.3" fill="none" stroke="#000" stroke-width="1.56"/>
<path d="M244.5,596.0 L247.2,603.5 L253.3,610.0" fill="none" stroke="#000" stroke-width="1.56"/>
<path d="M247.2,603.5 L245.4,616.5" fill="none" stroke="#000" stroke-width="1.44"/>
<ellipse cx="236.92" cy="610.27" rx="7.63" ry="9.11" transform="rotate(-30 236.92 610.27)" fill="#fff" stroke="#000" stroke-width="2.04"/>
<ellipse cx="236.08" cy="610.92" rx="5.02" ry="5.86" transform="rotate(-30 236.08 610.92)" fill="#000" stroke="#000" stroke-width="1.68"/>
<ellipse cx="236.55" cy="611.38" rx="2.23" ry="3.91" transform="rotate(-30 236.55 611.38)" fill="#fff" stroke="#000" stroke-width="1.20"/>
<ellipse cx="28.5" cy="678.5" rx="7.4" ry="10.6" transform="rotate(0 28.5 678.5)" fill="#fff" stroke="#000" stroke-width="2.16"/>
<ellipse cx="29" cy="679" rx="3" ry="6" transform="rotate(0 29 679)" fill="#fff" stroke="#000" stroke-width="1.56"/>
<path d="M53.3,693.3 A9,9 0 1 1 55.3,681.9" fill="none" stroke="#000" stroke-width="2.16"/>
<path d="M50.4,689.8 A4.5,4.5 0 1 1 51.4,684.1" fill="none" stroke="#000" stroke-width="1.56"/>
<path d="M125.4,711.5 L143.9,702.2 L162.4,707.5 L162,736 L143,745 L125.4,740.5 Z" fill="#fff" stroke="#000" stroke-width="2.16" stroke-linejoin="round" stroke-linecap="round" />
<path d="M125.4,711.5 L143.5,716.5 L162.4,707.5" fill="none" stroke="#000" stroke-width="1.7999999999999998"/>
<path d="M143.5,716.5 L143.0,745.0" fill="none" stroke="#000" stroke-width="1.7999999999999998"/>
<ellipse cx="144" cy="707" rx="5" ry="3" transform="rotate(0 144 707)" fill="#fff" stroke="#000" stroke-width="1.68"/>
<path d="M169.2,735.8 L181.2,742.8 L186.8,733.2 L174.8,726.2 Z" fill="#fff" stroke="#000" stroke-width="2.16"/>
<ellipse cx="184" cy="738" rx="2.475" ry="5.5" transform="rotate(30.256437163529263 184 738)" fill="#fff" stroke="#000" stroke-width="2.16"/>
<ellipse cx="172" cy="731" rx="2.475" ry="5.5" transform="rotate(30.256437163529263 172 731)" fill="#fff" stroke="#000" stroke-width="2.16"/>
<path d="M156.5,730.0 L168.5,737.0 L175.5,725.0 L163.5,718.0 Z" fill="#fff" stroke="#000" stroke-width="2.16"/>
<ellipse cx="172" cy="731" rx="3.15" ry="7" transform="rotate(30.256437163529263 172 731)" fill="#fff" stroke="#000" stroke-width="2.16"/>
<ellipse cx="160" cy="724" rx="3.15" ry="7" transform="rotate(30.256437163529263 160 724)" fill="#fff" stroke="#000" stroke-width="2.16"/>
<path d="M159.4,731.6 L164.6,718.4 M161.4,732.8 L166.6,719.6 M163.4,734.0 L168.6,720.8 M165.4,735.2 L170.6,722.0 M167.4,736.4 L172.6,723.2 M169.4,737.6 L174.6,724.4" stroke="#000" stroke-width="1.56" fill="none"/>
<ellipse cx="143.9" cy="687.7" rx="7" ry="5" transform="rotate(0 143.9 687.7)" fill="#fff" stroke="#000" stroke-width="1.92"/>
<ellipse cx="143.9" cy="684" rx="6" ry="3" transform="rotate(0 143.9 684)" fill="#fff" stroke="#000" stroke-width="1.56"/>
<ellipse cx="197.5" cy="744" rx="8" ry="11" transform="rotate(0 197.5 744)" fill="#fff" stroke="#000" stroke-width="2.64"/>
<ellipse cx="198" cy="744.5" rx="4.5" ry="7" transform="rotate(0 198 744.5)" fill="#fff" stroke="#000" stroke-width="2.28"/>
<ellipse cx="217" cy="751" rx="6.6" ry="10.6" transform="rotate(0 217 751)" fill="#fff" stroke="#000" stroke-width="1.92"/>
<ellipse cx="217" cy="751" rx="3.5" ry="7" transform="rotate(0 217 751)" fill="#fff" stroke="#000" stroke-width="1.56"/>
<path d="M221.8,801 C219,790 221,778 225,770 C228,760 231,752 236,749 C241,746 247,748 249,754 C250,762 251,770 254,778 C256,784 254,788 250,787 C247,786 245,781 243,778 C238,779 234,786 231,795 C230,801 229,805 225,805 Z" fill="#fff" stroke="#000" stroke-width="2.28" stroke-linejoin="round" stroke-linecap="round" />
<path d="M225,770 C226,762 229,756 233,752 M229,774 C231,768 236,766 240,768" fill="none" stroke="#000" stroke-width="1.44"/>
<ellipse cx="241.6" cy="760.3" rx="3" ry="4" transform="rotate(0 241.6 760.3)" fill="#fff" stroke="#000" stroke-width="1.80"/>
<path d="M272,764 L276.2,761.3 L279,763 L284.6,763.4 L285.4,766.9 L283.2,776.8 C281,781 279,782.7 276.9,782.7 C273,783 271.5,781 271.3,781 C270,777 270,775 270.6,773.2 L272.7,766.9 Z" fill="#fff" stroke="#000" stroke-width="2.16" stroke-linejoin="round" stroke-linecap="round" />
<ellipse cx="277" cy="772.5" rx="3" ry="3.5" transform="rotate(0 277 772.5)" fill="#fff" stroke="#000" stroke-width="1.92"/>
<path d="M288,779 L291.7,770.4 L302.9,765.1 L310.7,768.3 L317,775 L318.8,786 L314,796 L301,798.6 L291,794.4 L286.8,787 Z" fill="#fff" stroke="#000" stroke-width="2.40" stroke-linejoin="round" stroke-linecap="round" />
<path d="M296.5,770.0 L293.0,786.0 L298.0,796.0" fill="none" stroke="#000" stroke-width="1.68"/>
<path d="M304.0,766.0 L305.0,772.0 L302.0,786.0 L306.0,797.0" fill="none" stroke="#000" stroke-width="1.68"/>
<ellipse cx="311.6" cy="784.2" rx="7.5" ry="12" transform="rotate(10 311.6 784.2)" fill="#fff" stroke="#000" stroke-width="2.16"/>
<ellipse cx="312" cy="784.8" rx="5.5" ry="9" transform="rotate(10 312 784.8)" fill="#fff" stroke="#000" stroke-width="1.80"/>
<ellipse cx="312.4" cy="785.2" rx="3.5" ry="6" transform="rotate(10 312.4 785.2)" fill="#000" stroke="#000" stroke-width="1.56"/>
<path d="M331.2,801.2 L421.2,833.2 L424.8,822.8 L334.8,790.8 Z" fill="#fff" stroke="#000" stroke-width="2.16"/>
<ellipse cx="423" cy="828" rx="3.5" ry="5.5" transform="rotate(-20 423 828)" fill="#fff" stroke="#000" stroke-width="1.80"/>
<ellipse cx="333" cy="796" rx="3.5" ry="5.5" transform="rotate(-20 333 796)" fill="#fff" stroke="#000" stroke-width="1.80"/>
<path d="M441,830 L447,823 L458,822 L465,827 L468,838 L465,849 L456,855 L445,853.5 L439.5,846 L438.6,836 Z" fill="#fff" stroke="#000" stroke-width="2.40" stroke-linejoin="round" stroke-linecap="round" />
<path d="M447.0,823.0 L447.5,834.0 L445.0,853.5" fill="none" stroke="#000" stroke-width="1.68"/>
<path d="M441.0,830.0 L447.5,834.0 L458.0,831.0" fill="none" stroke="#000" stroke-width="1.68"/>
<ellipse cx="459" cy="839" rx="7.5" ry="12.5" transform="rotate(5 459 839)" fill="#fff" stroke="#000" stroke-width="2.28"/>
<ellipse cx="459.5" cy="839.5" rx="4" ry="7" transform="rotate(5 459.5 839.5)" fill="#fff" stroke="#000" stroke-width="1.92"/>
<path d="M476,841 L480.2,838.3 L483,840 L488.6,840.4 L489.4,843.9 L487.2,853.8 C485,858 483,859.7 480.9,859.7 C477,860 475.5,858 475.3,858 C474,854 474,852 474.6,850.2 L476.7,843.9 Z" fill="#fff" stroke="#000" stroke-width="2.16" stroke-linejoin="round" stroke-linecap="round" />
<ellipse cx="481" cy="849.5" rx="3" ry="3.5" transform="rotate(0 481 849.5)" fill="#fff" stroke="#000" stroke-width="1.92"/>
<path d="M508.2,907.7 C505,902 504,896 504.7,891.9 C505,883 507,878 510,872.5 L518.8,856.7 C521,854 523,853 525.8,853.2 C529,853 532,855 532.9,858.5 C533,862 532,866 531.1,869 C534,872 537,876 538.2,879.6 C540,884 541,888 540,890.1 C538,892 536,892 534.6,891.9 C532,889 531,886 529.4,883.1 C525,883 522,884 520.6,886.6 C518,892 516,898 515.3,904.2 C514,907 512,909 508.2,907.7 Z" fill="#fff" stroke="#000" stroke-width="2.28" stroke-linejoin="round" stroke-linecap="round" />
<ellipse cx="525.5" cy="861" rx="3" ry="4" transform="rotate(0 525.5 861)" fill="#fff" stroke="#000" stroke-width="1.80"/>
<ellipse cx="548.7" cy="869" rx="6.5" ry="10" transform="rotate(0 548.7 869)" fill="#fff" stroke="#000" stroke-width="1.92"/>
<ellipse cx="548.7" cy="869" rx="3" ry="6" transform="rotate(0 548.7 869)" fill="#fff" stroke="#000" stroke-width="1.56"/>
<ellipse cx="569" cy="878.9" rx="8" ry="11" transform="rotate(0 569 878.9)" fill="#fff" stroke="#000" stroke-width="2.16"/>
<ellipse cx="569" cy="878.9" rx="3.6" ry="4.95" transform="rotate(0 569 878.9)" fill="#fff" stroke="#000" stroke-width="1.68"/>
<path d="M598,885 L615,876 L633,882 L633,912 L616,922 L598,914 Z" fill="#fff" stroke="#000" stroke-width="2.16" stroke-linejoin="round" stroke-linecap="round" />
<path d="M598.0,885.0 L616.0,892.0 L633.0,882.0" fill="none" stroke="#000" stroke-width="1.7999999999999998"/>
<path d="M616.0,892.0 L616.0,922.0" fill="none" stroke="#000" stroke-width="1.7999999999999998"/>
<path d="M593.2,896.5 L601.2,892.5 L596.8,883.5 L588.8,887.5 Z" fill="#fff" stroke="#000" stroke-width="2.16"/>
<ellipse cx="599" cy="888" rx="2.25" ry="5" transform="rotate(-26.56505117707799 599 888)" fill="#fff" stroke="#000" stroke-width="2.16"/>
<ellipse cx="591" cy="892" rx="2.25" ry="5" transform="rotate(-26.56505117707799 591 892)" fill="#fff" stroke="#000" stroke-width="2.16"/>
<ellipse cx="616" cy="878" rx="5" ry="3" transform="rotate(0 616 878)" fill="#fff" stroke="#000" stroke-width="1.68"/>
<ellipse cx="616.3" cy="859" rx="7" ry="5" transform="rotate(0 616.3 859)" fill="#fff" stroke="#000" stroke-width="1.92"/>
<ellipse cx="616.3" cy="855" rx="6" ry="3" transform="rotate(0 616.3 855)" fill="#fff" stroke="#000" stroke-width="1.56"/>
<path d="M521.2,456 C521,450 528,448.5 535,449.5 C541,451 545,456 545,462 L545,470 C542,474 535,474 530,471 Z" fill="#fff" stroke="#000" stroke-width="2.28" stroke-linejoin="round" stroke-linecap="round" />
<ellipse cx="533" cy="452.5" rx="10" ry="4" transform="rotate(10 533 452.5)" fill="#fff" stroke="#000" stroke-width="1.80"/>
<path d="M466.7,472.6 L471.7,467.6 L487.5,459.7 L505,455 L530,462 L543,473.6 L560.8,493.4 L568.7,503.3 L568.7,509.2 L562.8,514.2 L535,525 L519.2,529 L507.3,528 L501.4,521.1 L497.4,517.1 L485.5,519.1 L469.7,509.2 L466.7,495.3 Z" fill="#fff" stroke="#000" stroke-width="2.40" stroke-linejoin="round" stroke-linecap="round" />
<path d="M479.6,479.5 C485,466 492,458 499.4,455.7 C508,453 518,453 523.2,455.7 C530,460 534,465 536,472 C539,480 540,488 539,492 C537,500 533,505 527,511 C520,516 515,517.5 511.3,517.1 L499.4,517.1 Z" fill="#fff" stroke="#000" stroke-width="2.28" stroke-linejoin="round" stroke-linecap="round" />
<path d="M505.3,513.2 L519.2,499.3 L533.1,495.3 C535,497 535.5,499 535,501.3 L527.1,513.2 L515.2,517.1 Z" fill="#fff" stroke="#000" stroke-width="1.92" stroke-linejoin="round" stroke-linecap="round" />
<path d="M500.0,462.0 L518.0,459.0" fill="none" stroke="#000" stroke-width="1.32"/>
<path d="M528.0,465.0 L532.0,478.0" fill="none" stroke="#000" stroke-width="1.32"/>
<path d="M531.0,466.0 L535.0,479.0" fill="none" stroke="#000" stroke-width="1.32"/>
<path d="M540.0,487.0 L552.0,500.0 L556.0,507.0" fill="none" stroke="#000" stroke-width="1.56"/>
<ellipse cx="483.6" cy="498.3" rx="15.8" ry="19.8" transform="rotate(-10 483.6 498.3)" fill="#fff" stroke="#000" stroke-width="2.40"/>
<ellipse cx="486.5" cy="500.3" rx="11.5" ry="14" transform="rotate(-10 486.5 500.3)" fill="#fff" stroke="#000" stroke-width="2.04"/>
<path d="M473.0,505.0 L478.0,498.0" fill="none" stroke="#000" stroke-width="1.32"/>
<ellipse cx="473.7" cy="477.5" rx="2.5" ry="2.5" transform="rotate(0 473.7 477.5)" fill="#000" stroke="#000" stroke-width="1.56"/>
<ellipse cx="555.8" cy="508.2" rx="3.2" ry="3.2" transform="rotate(0 555.8 508.2)" fill="#fff" stroke="#000" stroke-width="1.80"/>
<ellipse cx="505.3" cy="542.9" rx="8.5" ry="8.5" transform="rotate(0 505.3 542.9)" fill="#fff" stroke="#000" stroke-width="2.16"/>
<ellipse cx="506" cy="543.5" rx="4" ry="4" transform="rotate(0 506 543.5)" fill="#fff" stroke="#000" stroke-width="1.68"/>
<path d="M498.0,542.0 L503.0,546.0" fill="none" stroke="#000" stroke-width="1.68"/>
<path d="M470.1,573.2 L495.6,556.0 L491.4,549.6 L465.9,566.8 Z" fill="#fff" stroke="#000" stroke-width="2.16"/>
<path d="M477.1,568.5 L470.9,563.5 M479.3,567.0 L473.0,562.1 M481.5,565.5 L475.2,560.6 M483.6,564.1 L477.4,559.1 M485.8,562.6 L479.5,557.7 M488.0,561.1 L481.7,556.2 M490.1,559.7 L483.9,554.7 M492.3,558.2 L486.0,553.3 M494.5,556.7 L488.2,551.8 M496.6,555.3 L490.4,550.3" stroke="#000" stroke-width="1.56" fill="none"/>
<ellipse cx="462.8" cy="572.6" rx="8" ry="8" transform="rotate(0 462.8 572.6)" fill="#fff" stroke="#000" stroke-width="2.16"/>
<ellipse cx="571" cy="451.3" rx="14.4" ry="15.3" transform="rotate(-10 571 451.3)" fill="#fff" stroke="#000" stroke-width="2.28"/>
<ellipse cx="572" cy="451.5" rx="8" ry="10" transform="rotate(-10 572 451.5)" fill="#fff" stroke="#000" stroke-width="1.92"/>
<path d="M658.3,415.4 L668.3,441.4 L675.7,438.6 L665.7,412.6 Z" fill="#fff" stroke="#000" stroke-width="2.16"/>
<ellipse cx="672" cy="443.8" rx="7.5" ry="7.5" transform="rotate(0 672 443.8)" fill="#fff" stroke="#000" stroke-width="2.16"/>
<path d="M598.5,441.2 L658.0,404.2 L649.0,389.8 L589.5,426.8 Z" fill="#fff" stroke="#000" stroke-width="2.16"/>
<ellipse cx="592.7" cy="435.5" rx="5.5" ry="8.5" transform="rotate(-32 592.7 435.5)" fill="#fff" stroke="#000" stroke-width="2.16"/>
<ellipse cx="591.5" cy="436.5" rx="1.5" ry="1.8" transform="rotate(0 591.5 436.5)" fill="#000" stroke="#000" stroke-width="1.56"/>
<path d="M603.5,437.6 L592.5,424.4 M605.9,436.1 L594.9,422.9 M608.3,434.6 L597.3,421.4 M610.7,433.1 L599.7,419.9 M613.1,431.6 L602.1,418.4 M615.5,430.1 L604.5,416.9" stroke="#000" stroke-width="1.68" fill="none"/>
<path d="M640.5,384 C640,381 642,379 645,377.5 L655,371.7 C658,370.5 660,370.5 662,371.5 L670,376 C672,377 673,379 673,381 L673,404 C673,406 672,408 670,409 L660,414.2 C658,415 656,415 654,414.5 L643,411 C641,410.5 640.5,409 640.5,407 Z" fill="#fff" stroke="#000" stroke-width="2.28" stroke-linejoin="round" stroke-linecap="round" />
<path d="M640.5,384.0 L656.6,390.8 L673.0,380.0" fill="none" stroke="#000" stroke-width="1.7999999999999998"/>
<path d="M656.6,390.8 L657.5,414.5" fill="none" stroke="#000" stroke-width="1.7999999999999998"/>
<path d="M668,394 C664,394 662,398 663,402 C664,405 667,406 669,404" fill="none" stroke="#000" stroke-width="1.8"/>
<path d="M650.0,376.0 L662.0,383.0" fill="none" stroke="#000" stroke-width="1.44"/>
<path d="M684,330 C676,326 668,330 668,338 C668,346 676,350 684,347 Z" fill="#fff" stroke="#000" stroke-width="2.28" stroke-linejoin="round" stroke-linecap="round" />
<path d="M742,360 C750,356 762,358 763.5,367 C764,376 756,380 748,377 Z" fill="#fff" stroke="#000" stroke-width="2.28" stroke-linejoin="round" stroke-linecap="round" />
<ellipse cx="713.5" cy="351.2" rx="40" ry="27.5" transform="rotate(60 713.5 351.2)" fill="#fff" stroke="#000" stroke-width="2.40"/>
<ellipse cx="713.5" cy="351.2" rx="37.5" ry="25" transform="rotate(60 713.5 351.2)" fill="none" stroke="#000" stroke-width="1.08"/>
<ellipse cx="713.5" cy="351.2" rx="33.5" ry="21" transform="rotate(60 713.5 351.2)" fill="none" stroke="#000" stroke-width="2.28"/>
<ellipse cx="674.7" cy="338" rx="3.5" ry="4" transform="rotate(0 674.7 338)" fill="#fff" stroke="#000" stroke-width="1.92"/>
<ellipse cx="755.3" cy="369" rx="3.8" ry="4.2" transform="rotate(0 755.3 369)" fill="#fff" stroke="#000" stroke-width="1.92"/>
<ellipse cx="712.0" cy="459.0" rx="3.17" ry="7.5" transform="rotate(34.1 712.0 459.0)" fill="none" stroke="#000" stroke-width="1.80"/><ellipse cx="715.6" cy="460.0" rx="3.17" ry="7.5" transform="rotate(34.1 715.6 460.0)" fill="none" stroke="#000" stroke-width="1.80"/><ellipse cx="719.2" cy="461.1" rx="3.17" ry="7.5" transform="rotate(34.1 719.2 461.1)" fill="none" stroke="#000" stroke-width="1.80"/><ellipse cx="722.8" cy="462.1" rx="3.17" ry="7.5" transform="rotate(34.1 722.8 462.1)" fill="none" stroke="#000" stroke-width="1.80"/><ellipse cx="726.3" cy="463.1" rx="3.17" ry="7.5" transform="rotate(34.1 726.3 463.1)" fill="none" stroke="#000" stroke-width="1.80"/><ellipse cx="729.9" cy="464.2" rx="3.17" ry="7.5" transform="rotate(34.1 729.9 464.2)" fill="none" stroke="#000" stroke-width="1.80"/><ellipse cx="733.5" cy="465.2" rx="3.17" ry="7.5" transform="rotate(34.1 733.5 465.2)" fill="none" stroke="#000" stroke-width="1.80"/><ellipse cx="737.1" cy="466.2" rx="3.17" ry="7.5" transform="rotate(34.1 737.1 466.2)" fill="none" stroke="#000" stroke-width="1.80"/><ellipse cx="740.7" cy="467.3" rx="3.17" ry="7.5" transform="rotate(34.1 740.7 467.3)" fill="none" stroke="#000" stroke-width="1.80"/><ellipse cx="744.2" cy="468.3" rx="3.17" ry="7.5" transform="rotate(34.1 744.2 468.3)" fill="none" stroke="#000" stroke-width="1.80"/><ellipse cx="747.8" cy="469.3" rx="3.17" ry="7.5" transform="rotate(34.1 747.8 469.3)" fill="none" stroke="#000" stroke-width="1.80"/><ellipse cx="751.4" cy="470.4" rx="3.17" ry="7.5" transform="rotate(34.1 751.4 470.4)" fill="none" stroke="#000" stroke-width="1.80"/><ellipse cx="755.0" cy="471.4" rx="3.17" ry="7.5" transform="rotate(34.1 755.0 471.4)" fill="none" stroke="#000" stroke-width="1.80"/>
<ellipse cx="805.0" cy="398.0" rx="2.96" ry="6" transform="rotate(0.7 805.0 398.0)" fill="none" stroke="#000" stroke-width="1.80"/><ellipse cx="808.5" cy="397.5" rx="2.96" ry="6" transform="rotate(0.7 808.5 397.5)" fill="none" stroke="#000" stroke-width="1.80"/><ellipse cx="811.9" cy="396.9" rx="2.96" ry="6" transform="rotate(0.7 811.9 396.9)" fill="none" stroke="#000" stroke-width="1.80"/><ellipse cx="815.4" cy="396.2" rx="2.96" ry="6" transform="rotate(0.7 815.4 396.2)" fill="none" stroke="#000" stroke-width="1.80"/><ellipse cx="818.8" cy="395.4" rx="2.96" ry="6" transform="rotate(0.7 818.8 395.4)" fill="none" stroke="#000" stroke-width="1.80"/><ellipse cx="822.2" cy="394.6" rx="2.96" ry="6" transform="rotate(0.7 822.2 394.6)" fill="none" stroke="#000" stroke-width="1.80"/><ellipse cx="825.6" cy="393.7" rx="2.96" ry="6" transform="rotate(0.7 825.6 393.7)" fill="none" stroke="#000" stroke-width="1.80"/><ellipse cx="828.9" cy="392.7" rx="2.96" ry="6" transform="rotate(0.7 828.9 392.7)" fill="none" stroke="#000" stroke-width="1.80"/><ellipse cx="832.2" cy="391.6" rx="2.96" ry="6" transform="rotate(0.7 832.2 391.6)" fill="none" stroke="#000" stroke-width="1.80"/><ellipse cx="835.5" cy="390.4" rx="2.96" ry="6" transform="rotate(0.7 835.5 390.4)" fill="none" stroke="#000" stroke-width="1.80"/><ellipse cx="838.8" cy="389.2" rx="2.96" ry="6" transform="rotate(0.7 838.8 389.2)" fill="none" stroke="#000" stroke-width="1.80"/><ellipse cx="842.0" cy="387.9" rx="2.96" ry="6" transform="rotate(0.7 842.0 387.9)" fill="none" stroke="#000" stroke-width="1.80"/><ellipse cx="845.2" cy="386.5" rx="2.96" ry="6" transform="rotate(0.7 845.2 386.5)" fill="none" stroke="#000" stroke-width="1.80"/><ellipse cx="848.4" cy="385.0" rx="2.96" ry="6" transform="rotate(0.7 848.4 385.0)" fill="none" stroke="#000" stroke-width="1.80"/><ellipse cx="851.6" cy="383.5" rx="2.96" ry="6" transform="rotate(0.7 851.6 383.5)" fill="none" stroke="#000" stroke-width="1.80"/>
<ellipse cx="1009.0" cy="395.2" rx="2.79" ry="6" transform="rotate(1.4 1009.0 395.2)" fill="none" stroke="#000" stroke-width="1.80"/><ellipse cx="1012.3" cy="394.8" rx="2.79" ry="6" transform="rotate(1.4 1012.3 394.8)" fill="none" stroke="#000" stroke-width="1.80"/><ellipse cx="1015.6" cy="394.3" rx="2.79" ry="6" transform="rotate(1.4 1015.6 394.3)" fill="none" stroke="#000" stroke-width="1.80"/><ellipse cx="1018.8" cy="393.7" rx="2.79" ry="6" transform="rotate(1.4 1018.8 393.7)" fill="none" stroke="#000" stroke-width="1.80"/><ellipse cx="1022.1" cy="393.1" rx="2.79" ry="6" transform="rotate(1.4 1022.1 393.1)" fill="none" stroke="#000" stroke-width="1.80"/><ellipse cx="1025.3" cy="392.3" rx="2.79" ry="6" transform="rotate(1.4 1025.3 392.3)" fill="none" stroke="#000" stroke-width="1.80"/><ellipse cx="1028.4" cy="391.5" rx="2.79" ry="6" transform="rotate(1.4 1028.4 391.5)" fill="none" stroke="#000" stroke-width="1.80"/><ellipse cx="1031.6" cy="390.5" rx="2.79" ry="6" transform="rotate(1.4 1031.6 390.5)" fill="none" stroke="#000" stroke-width="1.80"/><ellipse cx="1034.7" cy="389.5" rx="2.79" ry="6" transform="rotate(1.4 1034.7 389.5)" fill="none" stroke="#000" stroke-width="1.80"/><ellipse cx="1037.8" cy="388.4" rx="2.79" ry="6" transform="rotate(1.4 1037.8 388.4)" fill="none" stroke="#000" stroke-width="1.80"/><ellipse cx="1040.9" cy="387.2" rx="2.79" ry="6" transform="rotate(1.4 1040.9 387.2)" fill="none" stroke="#000" stroke-width="1.80"/><ellipse cx="1043.9" cy="385.9" rx="2.79" ry="6" transform="rotate(1.4 1043.9 385.9)" fill="none" stroke="#000" stroke-width="1.80"/><ellipse cx="1046.9" cy="384.5" rx="2.79" ry="6" transform="rotate(1.4 1046.9 384.5)" fill="none" stroke="#000" stroke-width="1.80"/><ellipse cx="1049.9" cy="383.0" rx="2.79" ry="6" transform="rotate(1.4 1049.9 383.0)" fill="none" stroke="#000" stroke-width="1.80"/>
<ellipse cx="1052.0" cy="584.0" rx="2.94" ry="7" transform="rotate(37.1 1052.0 584.0)" fill="none" stroke="#000" stroke-width="1.80"/><ellipse cx="1055.3" cy="585.1" rx="2.94" ry="7" transform="rotate(37.1 1055.3 585.1)" fill="none" stroke="#000" stroke-width="1.80"/><ellipse cx="1058.5" cy="586.3" rx="2.94" ry="7" transform="rotate(37.1 1058.5 586.3)" fill="none" stroke="#000" stroke-width="1.80"/><ellipse cx="1061.8" cy="587.4" rx="2.94" ry="7" transform="rotate(37.1 1061.8 587.4)" fill="none" stroke="#000" stroke-width="1.80"/><ellipse cx="1065.1" cy="588.5" rx="2.94" ry="7" transform="rotate(37.1 1065.1 588.5)" fill="none" stroke="#000" stroke-width="1.80"/><ellipse cx="1068.3" cy="589.7" rx="2.94" ry="7" transform="rotate(37.1 1068.3 589.7)" fill="none" stroke="#000" stroke-width="1.80"/><ellipse cx="1071.6" cy="590.8" rx="2.94" ry="7" transform="rotate(37.1 1071.6 590.8)" fill="none" stroke="#000" stroke-width="1.80"/><ellipse cx="1074.9" cy="591.9" rx="2.94" ry="7" transform="rotate(37.1 1074.9 591.9)" fill="none" stroke="#000" stroke-width="1.80"/><ellipse cx="1078.1" cy="593.1" rx="2.94" ry="7" transform="rotate(37.1 1078.1 593.1)" fill="none" stroke="#000" stroke-width="1.80"/><ellipse cx="1081.4" cy="594.2" rx="2.94" ry="7" transform="rotate(37.1 1081.4 594.2)" fill="none" stroke="#000" stroke-width="1.80"/><ellipse cx="1084.7" cy="595.3" rx="2.94" ry="7" transform="rotate(37.1 1084.7 595.3)" fill="none" stroke="#000" stroke-width="1.80"/><ellipse cx="1087.9" cy="596.5" rx="2.94" ry="7" transform="rotate(37.1 1087.9 596.5)" fill="none" stroke="#000" stroke-width="1.80"/><ellipse cx="1091.2" cy="597.6" rx="2.94" ry="7" transform="rotate(37.1 1091.2 597.6)" fill="none" stroke="#000" stroke-width="1.80"/><ellipse cx="1094.5" cy="598.7" rx="2.94" ry="7" transform="rotate(37.1 1094.5 598.7)" fill="none" stroke="#000" stroke-width="1.80"/><ellipse cx="1097.7" cy="599.9" rx="2.94" ry="7" transform="rotate(37.1 1097.7 599.9)" fill="none" stroke="#000" stroke-width="1.80"/><ellipse cx="1101.0" cy="601.0" rx="2.94" ry="7" transform="rotate(37.1 1101.0 601.0)" fill="none" stroke="#000" stroke-width="1.80"/>
<path d="M1052,584 C1046,578 1040,582 1044,588 M1101,601 C1108,603 1110,610 1105,612" fill="none" stroke="#000" stroke-width="1.92"/>
<path d="M773,478 C773,471 778,469 783,470 L797.5,476.2 C802,480 804,487 804,493.5 L789,490 L773,485.6 Z" fill="#fff" stroke="#000" stroke-width="2.28" stroke-linejoin="round" stroke-linecap="round" />
<path d="M797.5,476.2 C795,480 795,486 799,492" fill="none" stroke="#000" stroke-width="1.56"/>
<path d="M779.0,484.0 L793.0,487.0" fill="none" stroke="#000" stroke-width="1.56"/>
<path d="M812.5,495 L836,463.1 L857.5,467.8 L857.5,498.75 L836,523.1 L811.6,516.6 Z" fill="#fff" stroke="#000" stroke-width="2.28" stroke-linejoin="round" stroke-linecap="round" />
<path d="M812.5,495.0 L835.0,502.5 L857.5,467.8" fill="none" stroke="#000" stroke-width="1.92"/>
<path d="M835.0,502.5 L836.0,523.1" fill="none" stroke="#000" stroke-width="1.92"/>
<ellipse cx="841.6" cy="472.5" rx="4" ry="2.3" transform="rotate(0 841.6 472.5)" fill="#fff" stroke="#000" stroke-width="1.80"/>
<ellipse cx="828.4" cy="490.3" rx="4" ry="2.3" transform="rotate(0 828.4 490.3)" fill="#fff" stroke="#000" stroke-width="1.80"/>
<ellipse cx="848.1" cy="496.9" rx="3.5" ry="6" transform="rotate(0 848.1 496.9)" fill="#fff" stroke="#000" stroke-width="1.92"/>
<path d="M817.2,580.3 L816.3,578.4 L821.9,573.8 L825.6,567.2 L835,551.25 L838.75,545.6 L842.5,543.75 L843.4,540 L848.1,539.1 L852.8,540 L853.75,543.75 L851.9,547.5 L855.6,551.25 L854.7,555.9 L846.25,560.6 L843.4,567.2 L842.5,573.75 L836.9,574.7 L827.5,578.4 L822.8,580.3 Z" fill="#fff" stroke="#000" stroke-width="2.28" stroke-linejoin="round" stroke-linecap="round" />
<path d="M838.8,545.6 L846.0,549.0 L851.9,547.5" fill="none" stroke="#000" stroke-width="1.44"/>
<path d="M825.6,567.2 L833.0,572.0 L843.4,567.2" fill="none" stroke="#000" stroke-width="1.44"/>
<ellipse cx="842.5" cy="548.4" rx="4" ry="2.3" transform="rotate(0 842.5 548.4)" fill="#fff" stroke="#000" stroke-width="1.80"/>
<ellipse cx="829.4" cy="569" rx="4" ry="2.3" transform="rotate(0 829.4 569)" fill="#fff" stroke="#000" stroke-width="1.80"/>
<path d="M838.5,595.0 L838.5,615.0 L846.5,615.0 L846.5,595.0 Z" fill="#fff" stroke="#000" stroke-width="2.16"/>
<path d="M838.5,597.2 L846.5,594.8 M838.5,599.5 L846.5,597.0 M838.5,601.7 L846.5,599.3 M838.5,604.0 L846.5,601.5 M838.5,606.2 L846.5,603.8 M838.5,608.5 L846.5,606.0 M838.5,610.7 L846.5,608.3 M838.5,613.0 L846.5,610.5 M838.5,615.2 L846.5,612.8" stroke="#000" stroke-width="1.56" fill="none"/>
<ellipse cx="842.5" cy="594" rx="4" ry="2" transform="rotate(0 842.5 594)" fill="#fff" stroke="#000" stroke-width="1.80"/>
<path d="M835.5,617 L838,614 L847,614 L849.5,617 L849.5,623 L847,626 L838,626 L835.5,623 Z" fill="#fff" stroke="#000" stroke-width="2.16" stroke-linejoin="round" stroke-linecap="round" />
<path d="M838.0,614.0 L838.0,626.0" fill="none" stroke="#000" stroke-width="1.32"/>
<path d="M847.0,614.0 L847.0,626.0" fill="none" stroke="#000" stroke-width="1.32"/>
<path d="M789.6,298.2 L771.3,312.3 C770,318 773,326 775.5,330.6 C780,336 786,338 791,339 L800,338 C806,336 810,340 812,346 L884,367.2 C888,364 895,364 898,370 L900.8,374.2 C906,378 916,378 923.4,372.8 L934.6,365.8 L1010.7,346 L1061.4,312.3 C1066,306 1066,302 1065.6,298.2 C1066,292 1064,289 1062.8,288.3 C1064,280 1064,272 1062,264 L927,320 L880,318 L799,297 Z" fill="#fff" stroke="#000" stroke-width="2.04" stroke-linejoin="round" stroke-linecap="round" />
<path d="M799.4,300.5 L799.4,326.0 L886.0,350.0 L926.0,352.0 L1058.0,300.0" fill="none" stroke="#000" stroke-width="1.68"/>
<ellipse cx="805" cy="339.9" rx="5.5" ry="3" transform="rotate(0 805 339.9)" fill="#fff" stroke="#000" stroke-width="1.80"/>
<ellipse cx="891" cy="367.2" rx="5.5" ry="3" transform="rotate(0 891 367.2)" fill="#fff" stroke="#000" stroke-width="1.80"/>
<ellipse cx="912" cy="374.8" rx="5.5" ry="3" transform="rotate(0 912 374.8)" fill="#fff" stroke="#000" stroke-width="1.80"/>
<ellipse cx="1053" cy="294" rx="5.5" ry="3" transform="rotate(0 1053 294)" fill="#fff" stroke="#000" stroke-width="1.80"/>
<path d="M887.0,330.0 L887.0,362.0" fill="none" stroke="#000" stroke-width="1.4" stroke-dasharray="9 5"/>
<path d="M974.0,322.0 L974.0,355.0" fill="none" stroke="#000" stroke-width="1.4" stroke-dasharray="9 5"/>
<path d="M780.0,302.4 L788.0,302.4 L884.0,341.8 L917.7,344.6 L985.4,330.6 L1041.7,306.6 L1066.0,272.7" fill="none" stroke="#000" stroke-width="1.7" stroke-dasharray="16 8"/>
<path d="M826,210 C830,196 845,190 866.8,187.5 C880,182 890,178 899.8,173.6 L899.8,160 C905,150 965,150 975,160 L975,167.7 C980,176 985,182 990.8,185.5 L1006.6,187.5 L1042.2,203.3 L1052,214 L927.5,268.6 L927.5,320 L880.7,319 L850,300 Z" fill="#fff" stroke="#000" stroke-width="2.16" stroke-linejoin="round" stroke-linecap="round" />
<path d="M899.8,173.6 C915,180 930,190 937.4,199.3 C942,208 945,215 945.3,219.1 C950,226 953,230 953.2,233 L955.2,254.7" fill="none" stroke="#000" stroke-width="2.04"/>
<path d="M977,179.6 C985,184 995,190 998.7,199.3 C1002,210 1004,220 1006.6,227 L1000,240" fill="none" stroke="#000" stroke-width="1.92"/>
<path d="M995,205 C1000,215 1002,222 999,232" fill="none" stroke="#000" stroke-width="1.56"/>
<path d="M940.0,262.0 L965.0,250.0" fill="none" stroke="#000" stroke-width="1.68"/>
<ellipse cx="957" cy="216" rx="4.5" ry="2.5" transform="rotate(0 957 216)" fill="#fff" stroke="#000" stroke-width="1.80"/>
<ellipse cx="971" cy="211" rx="4.5" ry="2.5" transform="rotate(0 971 211)" fill="#fff" stroke="#000" stroke-width="1.80"/>
<path d="M950,225 C960,232 975,232 990,226 M952,238 C965,244 980,240 995,234" fill="none" stroke="#000" stroke-width="1.44" stroke-dasharray="6 3"/>
<path d="M927.5,268.6 L1052,222 L1066,216 L1066,262.7 L1060,264 L927.5,320 Z" fill="#fff" stroke="#000" stroke-width="2.16" stroke-linejoin="round" stroke-linecap="round" />
<path d="M931.0,317.0 L1060.0,266.0" fill="none" stroke="#000" stroke-width="1.56"/>
<path d="M937.0,262.0 L1050.0,218.0" fill="none" stroke="#000" stroke-width="1.56" stroke-dasharray="10 4"/>
<path d="M1059.0,232.0 L1059.0,258.0" fill="none" stroke="#000" stroke-width="1.44" stroke-dasharray="4 3"/>
<path d="M771.9,238.9 L782,230 L799.6,219.1 L809.5,221.1 L830,232 L832,270 L850,300 L880.7,319 L870,320 L791.7,295.3 L771.9,287.4 Z" fill="#fff" stroke="#000" stroke-width="2.16" stroke-linejoin="round" stroke-linecap="round" />
<path d="M791.7,252.8 L791.7,295.3" fill="none" stroke="#000" stroke-width="1.56"/>
<path d="M819.3,253.0 L819.3,296.0" fill="none" stroke="#000" stroke-width="1.56" stroke-dasharray="8 2"/>
<path d="M819.3,296.0 L880.0,316.0" fill="none" stroke="#000" stroke-width="1.56"/>
<path d="M771.9,238.9 L791.7,252.8 L800.0,252.0" fill="none" stroke="#000" stroke-width="1.7999999999999998"/>
<ellipse cx="806.5" cy="243.9" rx="11" ry="6" transform="rotate(0 806.5 243.9)" fill="#fff" stroke="#000" stroke-width="2.04"/>
<ellipse cx="806.5" cy="243.5" rx="5" ry="3" transform="rotate(0 806.5 243.5)" fill="#fff" stroke="#000" stroke-width="1.68"/>
<ellipse cx="782.7" cy="248.8" rx="3" ry="4.5" transform="rotate(-20 782.7 248.8)" fill="#fff" stroke="#000" stroke-width="1.92"/>
<path d="M833.2,212 C836,204 845,200 852,201 C860,196 875,194 888,197 C905,202 918,215 924,232 C926,238 930,242 930,250 C930,258 924,262 918,260 C910,270 898,276 885,276 C868,276 850,266 842,254 C838,246 836,238 836,232 C832,226 831,218 833.2,212 Z" fill="#fff" stroke="#000" stroke-width="2.16" stroke-linejoin="round" stroke-linecap="round" />
<path d="M838,250 C848,268 866,282 888,283 C905,283 918,276 925,265" fill="none" stroke="#000" stroke-width="1.9"/>
<path d="M835,262 C845,278 866,290 890,291 C905,291 916,287 926,280 M840,276 C852,288 870,296 892,298 M846,292 L878,305" fill="none" stroke="#000" stroke-width="1.6"/>
<path d="M790,255 L790,292 M822,256 L822,296 M798,230 L826,244 M851,194 L868,186 M905,190 L918,200 M913,180 L925,188" fill="none" stroke="#000" stroke-width="1.4"/>
<ellipse cx="883.6" cy="233" rx="24" ry="30" transform="rotate(-25 883.6 233)" fill="#fff" stroke="#000" stroke-width="2.28"/>
<ellipse cx="884.5" cy="234" rx="20" ry="26" transform="rotate(-25 884.5 234)" fill="#fff" stroke="#000" stroke-width="1.80"/>
<path d="M870.0,213.0 L880.0,220.0 L896.0,214.0" fill="none" stroke="#000" stroke-width="1.68"/>
<ellipse cx="842.7" cy="220.1" rx="2.8" ry="2.8" transform="rotate(0 842.7 220.1)" fill="#000" stroke="#000" stroke-width="1.80"/>
<ellipse cx="922.5" cy="248.8" rx="2.8" ry="2.8" transform="rotate(0 922.5 248.8)" fill="#000" stroke="#000" stroke-width="1.80"/>
<ellipse cx="936" cy="165.7" rx="39" ry="17" transform="rotate(0 936 165.7)" fill="#fff" stroke="#000" stroke-width="2.28"/>
<ellipse cx="935.4" cy="167.6" rx="31.6" ry="13.8" transform="rotate(0 935.4 167.6)" fill="#fff" stroke="#000" stroke-width="1.92"/>
<path d="M935.0,150.0 L935.0,182.0" fill="none" stroke="#000" stroke-width="1.44" stroke-dasharray="8 3"/>
<path d="M877.6,157 L878,168 L886,178 L896,172 L899.6,157 Z" fill="#fff" stroke="#000" stroke-width="1.80" stroke-linejoin="round" stroke-linecap="round" />
<path d="M979.8,172 L982,182 L995,188 L1006,186 L1005.8,172 Z" fill="#fff" stroke="#000" stroke-width="1.80" stroke-linejoin="round" stroke-linecap="round" />
<path d="M1039,209 L1039,222 L1052,226 L1065,222 L1065,209 Z" fill="#fff" stroke="#000" stroke-width="1.80" stroke-linejoin="round" stroke-linecap="round" />
<ellipse cx="888.6" cy="156.8" rx="11" ry="6" transform="rotate(0 888.6 156.8)" fill="#fff" stroke="#000" stroke-width="2.04"/>
<ellipse cx="888.6" cy="156.3" rx="5" ry="3" transform="rotate(0 888.6 156.3)" fill="#fff" stroke="#000" stroke-width="1.68"/>
<ellipse cx="992.8" cy="171.7" rx="13" ry="7" transform="rotate(0 992.8 171.7)" fill="#fff" stroke="#000" stroke-width="2.04"/>
<ellipse cx="992.8" cy="171.2" rx="5" ry="3" transform="rotate(0 992.8 171.2)" fill="#fff" stroke="#000" stroke-width="1.68"/>
<ellipse cx="1052.1" cy="209.2" rx="13" ry="7" transform="rotate(0 1052.1 209.2)" fill="#fff" stroke="#000" stroke-width="2.04"/>
<ellipse cx="1052.1" cy="208.7" rx="5" ry="3" transform="rotate(0 1052.1 208.7)" fill="#fff" stroke="#000" stroke-width="1.68"/>
<path d="M880,312 L880,326 C884,331 897,331 901,326 L901,312 Z" fill="#fff" stroke="#000" stroke-width="1.92" stroke-linejoin="round" stroke-linecap="round" />
<ellipse cx="890.6" cy="312.1" rx="10.5" ry="5.5" transform="rotate(0 890.6 312.1)" fill="#fff" stroke="#000" stroke-width="2.04"/>
<ellipse cx="890.6" cy="311.8" rx="4.5" ry="2.5" transform="rotate(0 890.6 311.8)" fill="#fff" stroke="#000" stroke-width="1.68"/>
<path d="M902,304 L902,318 C906,324 920,324 924,318 L924,304 Z" fill="#fff" stroke="#000" stroke-width="1.92" stroke-linejoin="round" stroke-linecap="round" />
<ellipse cx="913" cy="304" rx="11" ry="6" transform="rotate(0 913 304)" fill="#fff" stroke="#000" stroke-width="2.04"/>
<ellipse cx="913" cy="303.5" rx="5" ry="2.8" transform="rotate(0 913 303.5)" fill="#fff" stroke="#000" stroke-width="1.68"/>
<path d="M1045.8,116.7 L1045.8,172.5 L1059.2,172.5 L1059.2,116.7 Z" fill="#fff" stroke="#000" stroke-width="2.16"/>
<path d="M1045.8,147.2 L1059.2,144.8 M1045.8,149.8 L1059.2,147.4 M1045.8,152.4 L1059.2,150.0 M1045.8,155.0 L1059.2,152.6 M1045.8,157.6 L1059.2,155.2 M1045.8,160.2 L1059.2,157.8 M1045.8,162.8 L1059.2,160.4 M1045.8,165.4 L1059.2,163.0 M1045.8,168.0 L1059.2,165.6 M1045.8,170.6 L1059.2,168.2 M1045.8,173.2 L1059.2,170.8" stroke="#000" stroke-width="1.56" fill="none"/>
<path d="M1039.7,108 L1045,100 L1060,100 L1064.2,108 L1060,116.7 L1045,116.7 Z" fill="#fff" stroke="#000" stroke-width="2.16" stroke-linejoin="round" stroke-linecap="round" />
<path d="M1045.0,100.0 L1047.0,108.0 L1058.0,108.0 L1060.0,100.0" fill="none" stroke="#000" stroke-width="1.56"/>
<ellipse cx="1052.5" cy="188.3" rx="10.8" ry="6.7" transform="rotate(0 1052.5 188.3)" fill="#fff" stroke="#000" stroke-width="2.16"/>
<ellipse cx="1052.5" cy="188.3" rx="4.86" ry="3.015" transform="rotate(0 1052.5 188.3)" fill="#fff" stroke="#000" stroke-width="1.68"/>
<ellipse cx="933.7" cy="115.5" rx="33" ry="17.5" transform="rotate(0 933.7 115.5)" fill="#fff" stroke="#000" stroke-width="2.16"/>
<path d="M912,118 C913,108 925,103 935,102" fill="none" stroke="#000" stroke-width="1.56"/>
<path d="M950,108 C955,110 957,114 955,118" fill="none" stroke="#000" stroke-width="1.56"/>
<path d="M847.1,72.8 L851.1,86.8 L856.9,85.2 L852.9,71.2 Z" fill="#fff" stroke="#000" stroke-width="2.16"/>
<ellipse cx="848.7" cy="64" rx="8" ry="9" transform="rotate(0 848.7 64)" fill="#fff" stroke="#000" stroke-width="2.16"/>
<ellipse cx="848.7" cy="64" rx="5" ry="3" transform="rotate(0 848.7 64)" fill="#fff" stroke="#000" stroke-width="1.56"/>
<ellipse cx="848.7" cy="60" rx="5" ry="3" transform="rotate(0 848.7 60)" fill="#fff" stroke="#000" stroke-width="1.56"/>
<ellipse cx="856" cy="98" rx="9.5" ry="6.5" transform="rotate(0 856 98)" fill="#fff" stroke="#000" stroke-width="2.16"/>
<ellipse cx="856" cy="98" rx="5.7" ry="3.9" transform="rotate(0 856 98)" fill="#fff" stroke="#000" stroke-width="1.68"/>
<ellipse cx="862" cy="119.5" rx="7" ry="8" transform="rotate(0 862 119.5)" fill="#fff" stroke="#000" stroke-width="1.92"/>
<ellipse cx="862" cy="116" rx="6" ry="3" transform="rotate(0 862 116)" fill="#fff" stroke="#000" stroke-width="1.56"/>
<path d="M860.6,413 L877.7,397.2 L896.2,391.2 L902.8,392.5 L904.1,396.5 L901.5,397.8 C905,399 907,401 908.1,402.4 C911,406 913,410 914.7,414.3 L918,424.9 L926.6,426.2 L927.2,436.8 L922,439.4 L905.5,450 L902.2,448.7 L901.5,430.2 L889.6,436.8 C887,434 886,432 885.7,430.2 L861.9,418.3 Z" fill="#fff" stroke="#000" stroke-width="2.28" stroke-linejoin="round" stroke-linecap="round" />
<path d="M861.9,418.3 L860.6,413.0" fill="none" stroke="#000" stroke-width="1.7999999999999998"/>
<path d="M862.0,415.5 L886.0,427.0 L889.6,436.8" fill="none" stroke="#000" stroke-width="1.56"/>
<path d="M918.0,424.9 L918.0,437.0 L922.0,439.4" fill="none" stroke="#000" stroke-width="1.56"/>
<path d="M889.0,410.0 L903.0,401.0" fill="none" stroke="#000" stroke-width="1.44"/>
<ellipse cx="885.7" cy="400.5" rx="4" ry="2.5" transform="rotate(0 885.7 400.5)" fill="#fff" stroke="#000" stroke-width="1.80"/>
<ellipse cx="881" cy="413.7" rx="4" ry="2.5" transform="rotate(0 881 413.7)" fill="#fff" stroke="#000" stroke-width="1.80"/>
<path d="M931.2,423.6 L931.9,418.3 L942.4,410.4 L959.6,397.8 L976.8,397.8 L986.7,399.8 L986,404.4 L982,410.4 L976.8,418.3 L974.8,438.1 L957,446 L954.3,444.7 L954.3,424.9 L942.4,428.9 L934.5,430.2 Z" fill="#fff" stroke="#000" stroke-width="2.28" stroke-linejoin="round" stroke-linecap="round" />
<path d="M931.9,418.3 C935,414 940,416 942,420 L954.3,424.9 M942.4,410.4 L957,418 L976.8,412" fill="none" stroke="#000" stroke-width="1.56"/>
<path d="M957.0,418.0 L957.0,446.0" fill="none" stroke="#000" stroke-width="1.44"/>
<ellipse cx="957" cy="409.7" rx="4" ry="2.5" transform="rotate(0 957 409.7)" fill="#fff" stroke="#000" stroke-width="1.80"/>
<ellipse cx="972.8" cy="407" rx="4" ry="2.5" transform="rotate(0 972.8 407)" fill="#fff" stroke="#000" stroke-width="1.80"/>
<path d="M881.6,458.0 L881.6,478.0 L889.6,478.0 L889.6,458.0 Z" fill="#fff" stroke="#000" stroke-width="2.16"/>
<path d="M881.6,460.2 L889.6,457.8 M881.6,462.4 L889.6,460.1 M881.6,464.7 L889.6,462.3 M881.6,466.9 L889.6,464.6 M881.6,469.2 L889.6,466.8 M881.6,471.4 L889.6,469.1 M881.6,473.7 L889.6,471.3 M881.6,475.9 L889.6,473.6 M881.6,478.2 L889.6,475.8" stroke="#000" stroke-width="1.56" fill="none"/>
<ellipse cx="885.6" cy="457.5" rx="4" ry="1.8" transform="rotate(0 885.6 457.5)" fill="#fff" stroke="#000" stroke-width="1.68"/>
<path d="M877.7,479 L877.7,488 C879,493 892,493 893.6,488 L893.6,479 Z" fill="#fff" stroke="#000" stroke-width="2.04" stroke-linejoin="round" stroke-linecap="round" />
<ellipse cx="885.6" cy="479" rx="8" ry="3" transform="rotate(0 885.6 479)" fill="#fff" stroke="#000" stroke-width="1.92"/>
<path d="M880.0,483.0 L880.0,490.0" fill="none" stroke="#000" stroke-width="1.32"/>
<path d="M884.0,484.0 L884.0,491.0" fill="none" stroke="#000" stroke-width="1.32"/>
<path d="M888.0,484.0 L888.0,491.0" fill="none" stroke="#000" stroke-width="1.32"/>
<path d="M969.1,450.0 L969.1,469.0 L977.1,469.0 L977.1,450.0 Z" fill="#fff" stroke="#000" stroke-width="2.16"/>
<path d="M969.1,452.2 L977.1,449.8 M969.1,454.3 L977.1,451.9 M969.1,456.4 L977.1,454.1 M969.1,458.6 L977.1,456.2 M969.1,460.7 L977.1,458.3 M969.1,462.8 L977.1,460.4 M969.1,464.9 L977.1,462.6 M969.1,467.1 L977.1,464.7 M969.1,469.2 L977.1,466.8" stroke="#000" stroke-width="1.56" fill="none"/>
<ellipse cx="973.1" cy="449.5" rx="4" ry="1.8" transform="rotate(0 973.1 449.5)" fill="#fff" stroke="#000" stroke-width="1.68"/>
<path d="M964.9,470 L964.9,478.5 C966,483.5 980,483.5 981.4,478.5 L981.4,470 Z" fill="#fff" stroke="#000" stroke-width="2.04" stroke-linejoin="round" stroke-linecap="round" />
<ellipse cx="973.1" cy="470" rx="8.2" ry="3" transform="rotate(0 973.1 470)" fill="#fff" stroke="#000" stroke-width="1.92"/>
<path d="M968.0,473.0 L968.0,480.0" fill="none" stroke="#000" stroke-width="1.32"/>
<path d="M972.0,474.0 L972.0,481.0" fill="none" stroke="#000" stroke-width="1.32"/>
<path d="M976.0,474.0 L976.0,481.0" fill="none" stroke="#000" stroke-width="1.32"/>
<ellipse cx="932.5" cy="494" rx="15" ry="8" transform="rotate(0 932.5 494)" fill="#fff" stroke="#000" stroke-width="2.28"/>
<ellipse cx="932.5" cy="494" rx="11.5" ry="5.5" transform="rotate(0 932.5 494)" fill="#fff" stroke="#000" stroke-width="1.68"/>
<path d="M928,487 L930,481 M936,487 L935,481" stroke="#000" stroke-width="1.80"/>
<ellipse cx="932" cy="530.6" rx="17.6" ry="10.8" transform="rotate(0 932 530.6)" fill="#fff" stroke="#000" stroke-width="2.16"/>
<ellipse cx="932" cy="530.6" rx="12" ry="6.5" transform="rotate(0 932 530.6)" fill="#fff" stroke="#000" stroke-width="1.80"/>
<path d="M919.5,572.0 L919.5,582.0 L932.5,582.0 L932.5,572.0 Z" fill="#fff" stroke="#000" stroke-width="2.16"/>
<ellipse cx="926" cy="582" rx="6.5" ry="3" transform="rotate(0 926 582)" fill="#fff" stroke="#000" stroke-width="1.92"/>
<path d="M1005.0,597.0 L1005.0,610.0 L1018.0,610.0 L1018.0,597.0 Z" fill="#fff" stroke="#000" stroke-width="2.16"/>
<ellipse cx="1011.5" cy="610" rx="6.5" ry="3" transform="rotate(0 1011.5 610)" fill="#fff" stroke="#000" stroke-width="1.92"/>
<path d="M910.4,559.9 C909,553 912,551 917,550.5 C935,549 960,551 975,555 C997,561 1015,572 1024,582 C1028,588 1026,592 1020,594 C1012,595 1003,593 997,589 L984,578 L977.7,579.4 L956.8,595.8 L934.4,586.9 L956.8,568.9 L920,566 C914,566 911,564 910.4,559.9 Z" fill="#fff" stroke="#000" stroke-width="2.28" stroke-linejoin="round" stroke-linecap="round" />
<ellipse cx="925.4" cy="557.7" rx="7" ry="3.5" transform="rotate(0 925.4 557.7)" fill="#fff" stroke="#000" stroke-width="1.92"/>
<ellipse cx="1010.7" cy="586.1" rx="7" ry="3.5" transform="rotate(0 1010.7 586.1)" fill="#fff" stroke="#000" stroke-width="1.92"/>
<path d="M909.7,596 L909.7,607 C912,618 952,620 956,607 L956,596 Z" fill="#fff" stroke="#000" stroke-width="2.16" stroke-linejoin="round" stroke-linecap="round" />
<ellipse cx="932.9" cy="595.8" rx="23.2" ry="10" transform="rotate(0 932.9 595.8)" fill="#fff" stroke="#000" stroke-width="2.28"/>
<ellipse cx="932.9" cy="596.8" rx="13.5" ry="6.7" transform="rotate(0 932.9 596.8)" fill="#fff" stroke="#000" stroke-width="2.04"/>
<path d="M894,607.2 L901.9,601.3 L934.1,612.4 L935.2,626.2 L909.3,640.4 L904.5,638.8 L903.5,629.9 L897.7,635.1 L892.4,634.1 L890.8,624.6 L892.9,608.7 Z" fill="#fff" stroke="#000" stroke-width="2.40" stroke-linejoin="round" stroke-linecap="round" />
<path d="M893.5,609.5 L899.0,611.0 L905.0,608.0 L918.0,612.5" fill="none" stroke="#000" stroke-width="1.7999999999999998"/>
<path d="M909.8,628.8 L933.6,613.5" fill="none" stroke="#000" stroke-width="1.7999999999999998"/>
<path d="M903.5,629.9 L909.8,628.8 L909.3,640.4" fill="none" stroke="#000" stroke-width="1.68"/>
<path d="M899.0,611.0 L897.0,622.0 L897.7,635.1" fill="none" stroke="#000" stroke-width="1.56"/>
<path d="M891.5,622.0 L896.0,623.0" fill="none" stroke="#000" stroke-width="1.44"/>
<path d="M902.5,624.6 L907.7,615 L914.6,612.4 L919.9,614 L916.7,617.2 L909.8,626.7 Z" fill="#fff" stroke="#000" stroke-width="1.92" stroke-linejoin="round" stroke-linecap="round" />
<path d="M912.0,626.0 L923.0,620.0" fill="none" stroke="#000" stroke-width="1.92"/>
<path d="M912.5,649 L912.5,654 A12.5,6 0 0 0 937.5,654 L937.5,649 Z" fill="#fff" stroke="#000" stroke-width="2.16" stroke-linejoin="round" stroke-linecap="round" />
<ellipse cx="925" cy="649" rx="12.5" ry="6" transform="rotate(0 925 649)" fill="#fff" stroke="#000" stroke-width="2.28"/>
<ellipse cx="925" cy="649.5" rx="5.5" ry="2.8" transform="rotate(0 925 649.5)" fill="#fff" stroke="#000" stroke-width="1.92"/>
<path d="M910.1,683.4 L913.3,675.5 L932.3,664.4 L936.3,662 L941.8,664.4 L943.4,668.3 L938.6,674.7 L940.2,677 L983,692.1 L987.7,696 L987.7,700.8 L979.8,706.4 L968.7,703.2 L968.7,699.2 L954.5,694.5 L932.3,689.7 L922.8,692.9 L911.7,689.7 Z" fill="#fff" stroke="#000" stroke-width="2.28" stroke-linejoin="round" stroke-linecap="round" />
<path d="M911.0,686.0 L922.0,689.0 L932.3,686.0 L954.5,691.0 L968.7,696.0 L987.7,697.0" fill="none" stroke="#000" stroke-width="1.56"/>
<path d="M968.7,699.2 L979.8,702.5 L987.7,697.0" fill="none" stroke="#000" stroke-width="1.44"/>
<ellipse cx="925.2" cy="681.8" rx="5" ry="2.6" transform="rotate(0 925.2 681.8)" fill="#fff" stroke="#000" stroke-width="1.80"/>
<path d="M935,665 L939.5,665.5 L937,670 Z" fill="#fff" stroke="#000" stroke-width="1.44" stroke-linejoin="round" stroke-linecap="round" />
<path d="M952.9,639.8 L959.2,635 L965.6,634.3 L990.9,643.8 L1011.5,650.1 L1032.1,644.6 L1041.6,645.4 L1044,650.9 L1041.6,654.1 L1019.4,667.5 L1011.5,670.7 L1002,667.5 L998,661.2 L968.7,650.1 L966.4,649.3 L954.5,646.1 Z" fill="#fff" stroke="#000" stroke-width="2.28" stroke-linejoin="round" stroke-linecap="round" />
<path d="M953.5,643.0 L966.0,646.0 L968.7,647.0 L998.0,658.0 L1002.0,664.0 L1011.5,667.0 L1019.4,664.0 L1042.5,651.5" fill="none" stroke="#000" stroke-width="1.56"/>
<ellipse cx="1011.5" cy="658" rx="5" ry="2.6" transform="rotate(0 1011.5 658)" fill="#fff" stroke="#000" stroke-width="1.80"/>
<ellipse cx="1037.7" cy="647.7" rx="2" ry="1.3" transform="rotate(0 1037.7 647.7)" fill="#fff" stroke="#000" stroke-width="1.44"/>
<path d="M999.7,686 L999.7,691 A12,6 0 0 0 1023.7,691 L1023.7,686 Z" fill="#fff" stroke="#000" stroke-width="2.16" stroke-linejoin="round" stroke-linecap="round" />
<ellipse cx="1011.7" cy="686" rx="12" ry="6" transform="rotate(0 1011.7 686)" fill="#fff" stroke="#000" stroke-width="2.28"/>
<ellipse cx="1011.7" cy="686.5" rx="5.5" ry="2.8" transform="rotate(0 1011.7 686.5)" fill="#fff" stroke="#000" stroke-width="1.92"/>
<path d="M936.7,715.3 A12.7,7 0 1 1 931.7,707.8 L928.9,709.9 M936.7,715.3 L932.0,714.6" fill="none" stroke="#000" stroke-width="2.2" stroke-linecap="round" stroke-linejoin="round"/>
<path d="M919.3,714.9 A5.715,3.15 0 0 1 929.5,714.9" fill="none" stroke="#000" stroke-width="1.6"/>
<path d="M1016.2,713.8 A13,7.5 0 1 1 1001.5,715.3 L1005.0,717.3 M1016.2,713.8 L1014.1,716.4" fill="none" stroke="#000" stroke-width="2.2" stroke-linecap="round" stroke-linejoin="round"/>
<path d="M1005.5,722.1 A5.8500000000000005,3.375 0 0 1 1015.9,722.1" fill="none" stroke="#000" stroke-width="1.6"/>
<path d="M853.7,841 C856,852 866,860 876,865 L886,867 L891,871 L899,870 L908,874.5 L937,879 L946,877.7 L972,876 L980,871.3 L996,866.6 L1008,857 L1015.3,841 Z" fill="#fff" stroke="#000" stroke-width="2.16" stroke-linejoin="round" stroke-linecap="round" />
<path d="M856.9,808.1 L860.8,805 L871.9,803.4 L875.1,805 L886.2,801 L919.5,793.9 L948,793.9 L979.7,800.2 L1003.5,811.3 L1014.5,825.6 L1015.3,838.2 L1008.2,854.1 L995.5,863.6 L979.7,868.3 L971.8,873.1 L946.4,874.7 L936.9,876.3 L908.4,871.5 L898.9,866.8 L891,868.3 L886.2,863.6 L876.7,862 L870.4,855.7 L860.8,849.3 L853.7,838.2 L852.9,828.7 L857.7,819.2 L855.3,812.9 Z" fill="#fff" stroke="#000" stroke-width="2.28" stroke-linejoin="round" stroke-linecap="round" />
<path d="M874.3,831.9 C874,826 876,822 876.7,822.4 C880,818 884,816 886.2,816.1 L898.9,812.9 L902.8,814.5 L902,822.4 L892.5,825.6 C890,828 889,830 889.4,831.9 C890,835 891,838 891,839.8 L884.6,843 L876.7,841.4 C875,838 874.3,835 874.3,831.9 Z M922.6,858.8 L927.4,854.1 L955.9,850.9 L965.4,844.6 L971.8,841.4 L987.6,835.1 L990.8,830.3 L997.1,827.1 L1006.6,827.9 L1010.6,831.9 L1006.6,836.7 L997.1,837.4 L990.8,839.8 L978.1,844.6 L974.9,850.9 L963.8,855.7 L940.1,860.4 L927.4,862.8 Z" fill="#fff" stroke="#000" stroke-width="2.0" stroke-linejoin="round"/>
<path d="M903.6,812 L903.6,838 C906,848 960,848 962.3,838 L962.3,812 Z" fill="#fff" stroke="#000" stroke-width="2.28" stroke-linejoin="round" stroke-linecap="round" />
<ellipse cx="933" cy="812" rx="29.4" ry="11" transform="rotate(0 933 812)" fill="#fff" stroke="#000" stroke-width="2.28"/>
<path d="M946,802 L950,800 L954,804 L957,802 L960,807 L962,806 L963.5,812 L963.5,838" fill="none" stroke="#000" stroke-width="1.7"/>
<path d="M920.2,757.4 L920.2,812 A13.5,5 0 0 0 947.2,812 L947.2,757.4 Z" fill="#fff" stroke="#000" stroke-width="2.28" stroke-linejoin="round" stroke-linecap="round" />
<ellipse cx="933.7" cy="757.4" rx="13.5" ry="6" transform="rotate(0 933.7 757.4)" fill="#fff" stroke="#000" stroke-width="2.28"/>
<ellipse cx="933.7" cy="759.5" rx="13" ry="4" transform="rotate(0 933.7 759.5)" fill="#fff" stroke="#000" stroke-width="1.68"/>
<path d="M943.5,765.0 L943.5,808.0" fill="none" stroke="#000" stroke-width="1.56"/>
<path d="M906.0,830.0 L918.0,834.0" fill="none" stroke="#000" stroke-width="1.44"/>
<path d="M935.0,836.0 L948.0,834.0" fill="none" stroke="#000" stroke-width="1.44"/>
<rect x="133.1" y="15.8" width="30.599999999999994" height="26.099999999999998" rx="2" fill="white" stroke="#000" stroke-width="1.8"/>
<rect x="311.9" y="197.2" width="30.30000000000001" height="25.600000000000023" rx="2" fill="white" stroke="#000" stroke-width="1.8"/>
<rect x="503" y="229.5" width="41.200000000000045" height="36.5" rx="2" fill="white" stroke="#000" stroke-width="1.8"/>
<g transform="translate(136.27,39.58) scale(0.23040,0.28800)"><text x="0.00" y="0" font-size="100" stroke="#000" stroke-width="0.9">5</text><text x="55.61" y="0" font-size="100" stroke="#000" stroke-width="0.9">0</text></g>
<g transform="translate(329.15,43.13) scale(0.23040,0.28800)"><text x="0.00" y="0" font-size="100" stroke="#000" stroke-width="0.9">2</text><text x="55.61" y="0" font-size="100" stroke="#000" stroke-width="0.9">4</text></g>
<g transform="translate(364.22,79.68) scale(0.23040,0.28800)"><text x="0.00" y="0" font-size="100" stroke="#000" stroke-width="0.9">5</text><path transform="translate(55.61,0)" d="M43,0 L28.5,0 L28.5,-48 C23,-44 16,-41.5 10,-40.5 L10,-52 C18,-54 25,-60 28,-70 L43,-70 Z" fill="#000" stroke="#000" stroke-width="0.9"/></g>
<g transform="translate(173.09,130.68) scale(0.23040,0.28800)"><text x="0.00" y="0" font-size="100" stroke="#000" stroke-width="0.9">5</text><path transform="translate(55.61,0)" d="M43,0 L28.5,0 L28.5,-48 C23,-44 16,-41.5 10,-40.5 L10,-52 C18,-54 25,-60 28,-70 L43,-70 Z" fill="#000" stroke="#000" stroke-width="0.9"/></g>
<g transform="translate(95.70,160.03) scale(0.23040,0.28800)"><path transform="translate(0.00,0)" d="M43,0 L28.5,0 L28.5,-48 C23,-44 16,-41.5 10,-40.5 L10,-52 C18,-54 25,-60 28,-70 L43,-70 Z" fill="#000" stroke="#000" stroke-width="0.9"/><text x="55.61" y="0" font-size="100" stroke="#000" stroke-width="0.9">3</text></g>
<g transform="translate(106.00,188.38) scale(0.23040,0.28800)"><path transform="translate(0.00,0)" d="M43,0 L28.5,0 L28.5,-48 C23,-44 16,-41.5 10,-40.5 L10,-52 C18,-54 25,-60 28,-70 L43,-70 Z" fill="#000" stroke="#000" stroke-width="0.9"/><text x="55.61" y="0" font-size="100" stroke="#000" stroke-width="0.9">9</text></g>
<g transform="translate(84.07,221.93) scale(0.23040,0.28800)"><text x="0.00" y="0" font-size="100" stroke="#000" stroke-width="0.9">3</text></g>
<g transform="translate(314.60,220.38) scale(0.23040,0.28800)"><text x="0.00" y="0" font-size="100" stroke="#000" stroke-width="0.9">2</text><text x="55.61" y="0" font-size="100" stroke="#000" stroke-width="0.9">3</text></g>
<g transform="translate(351.81,300.03) scale(0.23040,0.28800)"><path transform="translate(0.00,0)" d="M43,0 L28.5,0 L28.5,-48 C23,-44 16,-41.5 10,-40.5 L10,-52 C18,-54 25,-60 28,-70 L43,-70 Z" fill="#000" stroke="#000" stroke-width="0.9"/><text x="55.61" y="0" font-size="100" stroke="#000" stroke-width="0.9">4</text></g>
<g transform="translate(230.32,302.53) scale(0.23040,0.28800)"><text x="0.00" y="0" font-size="100" stroke="#000" stroke-width="0.9">5</text><text x="55.61" y="0" font-size="100" stroke="#000" stroke-width="0.9">2</text></g>
<g transform="translate(167.65,344.03) scale(0.23040,0.28800)"><path transform="translate(0.00,0)" d="M43,0 L28.5,0 L28.5,-48 C23,-44 16,-41.5 10,-40.5 L10,-52 C18,-54 25,-60 28,-70 L43,-70 Z" fill="#000" stroke="#000" stroke-width="0.9"/><text x="55.61" y="0" font-size="100" stroke="#000" stroke-width="0.9">3</text></g>
<g transform="translate(297.27,332.08) scale(0.23040,0.28800)"><path transform="translate(0.00,0)" d="M43,0 L28.5,0 L28.5,-48 C23,-44 16,-41.5 10,-40.5 L10,-52 C18,-54 25,-60 28,-70 L43,-70 Z" fill="#000" stroke="#000" stroke-width="0.9"/><text x="55.61" y="0" font-size="100" stroke="#000" stroke-width="0.9">7</text></g>
<g transform="translate(275.81,406.63) scale(0.23040,0.28800)"><text x="0.00" y="0" font-size="100" stroke="#000" stroke-width="0.9">2</text><text x="55.61" y="0" font-size="100" stroke="#000" stroke-width="0.9">2</text></g>
<g transform="translate(211.60,466.83) scale(0.23040,0.28800)"><text x="0.00" y="0" font-size="100" stroke="#000" stroke-width="0.9">2</text><text x="55.61" y="0" font-size="100" stroke="#000" stroke-width="0.9">4</text></g>
<g transform="translate(172.10,491.08) scale(0.23040,0.28800)"><path transform="translate(0.00,0)" d="M43,0 L28.5,0 L28.5,-48 C23,-44 16,-41.5 10,-40.5 L10,-52 C18,-54 25,-60 28,-70 L43,-70 Z" fill="#000" stroke="#000" stroke-width="0.9"/><text x="55.61" y="0" font-size="100" stroke="#000" stroke-width="0.9">9</text></g>
<g transform="translate(387.44,483.48) scale(0.23040,0.28800)"><path transform="translate(0.00,0)" d="M43,0 L28.5,0 L28.5,-48 C23,-44 16,-41.5 10,-40.5 L10,-52 C18,-54 25,-60 28,-70 L43,-70 Z" fill="#000" stroke="#000" stroke-width="0.9"/></g>
<g transform="translate(143.42,518.61) scale(0.23040,0.28800)"><text x="0.00" y="0" font-size="100" stroke="#000" stroke-width="0.9">3</text></g>
<g transform="translate(357.05,598.93) scale(0.23040,0.28800)"><text x="0.00" y="0" font-size="100" stroke="#000" stroke-width="0.9">2</text><text x="55.61" y="0" font-size="100" stroke="#000" stroke-width="0.9">6</text></g>
<g transform="translate(273.16,655.18) scale(0.23040,0.28800)"><path transform="translate(0.00,0)" d="M43,0 L28.5,0 L28.5,-48 C23,-44 16,-41.5 10,-40.5 L10,-52 C18,-54 25,-60 28,-70 L43,-70 Z" fill="#000" stroke="#000" stroke-width="0.9"/><text x="55.61" y="0" font-size="100" stroke="#000" stroke-width="0.9">2</text></g>
<g transform="translate(142.89,628.03) scale(0.23040,0.28800)"><text x="0.00" y="0" font-size="100" stroke="#000" stroke-width="0.9">4</text><text x="55.61" y="0" font-size="100" stroke="#000" stroke-width="0.9">0</text></g>
<g transform="translate(47.74,623.03) scale(0.23040,0.28800)"><path transform="translate(0.00,0)" d="M43,0 L28.5,0 L28.5,-48 C23,-44 16,-41.5 10,-40.5 L10,-52 C18,-54 25,-60 28,-70 L43,-70 Z" fill="#000" stroke="#000" stroke-width="0.9"/><text x="55.61" y="0" font-size="100" stroke="#000" stroke-width="0.9">5</text></g>
<g transform="translate(79.21,639.06) scale(0.23040,0.28800)"><path transform="translate(0.00,0)" d="M43,0 L28.5,0 L28.5,-48 C23,-44 16,-41.5 10,-40.5 L10,-52 C18,-54 25,-60 28,-70 L43,-70 Z" fill="#000" stroke="#000" stroke-width="0.9"/><text x="55.61" y="0" font-size="100" stroke="#000" stroke-width="0.9">4</text></g>
<g transform="translate(82.93,780.43) scale(0.23040,0.28800)"><text x="0.00" y="0" font-size="100" stroke="#000" stroke-width="0.9">4</text><text x="55.61" y="0" font-size="100" stroke="#000" stroke-width="0.9">3</text></g>
<g transform="translate(160.11,812.58) scale(0.23040,0.28800)"><text x="0.00" y="0" font-size="100" stroke="#000" stroke-width="0.9">9</text></g>
<g transform="translate(182.96,830.18) scale(0.23040,0.28800)"><path transform="translate(0.00,0)" d="M43,0 L28.5,0 L28.5,-48 C23,-44 16,-41.5 10,-40.5 L10,-52 C18,-54 25,-60 28,-70 L43,-70 Z" fill="#000" stroke="#000" stroke-width="0.9"/><text x="55.61" y="0" font-size="100" stroke="#000" stroke-width="0.9">0</text></g>
<g transform="translate(238.41,711.38) scale(0.23040,0.28800)"><text x="0.00" y="0" font-size="100" stroke="#000" stroke-width="0.9">3</text><text x="55.61" y="0" font-size="100" stroke="#000" stroke-width="0.9">8</text></g>
<g transform="translate(275.64,725.03) scale(0.23040,0.28800)"><text x="0.00" y="0" font-size="100" stroke="#000" stroke-width="0.9">4</text><text x="55.61" y="0" font-size="100" stroke="#000" stroke-width="0.9">2</text></g>
<g transform="translate(271.87,852.23) scale(0.23040,0.28800)"><text x="0.00" y="0" font-size="100" stroke="#000" stroke-width="0.9">4</text><path transform="translate(55.61,0)" d="M43,0 L28.5,0 L28.5,-48 C23,-44 16,-41.5 10,-40.5 L10,-52 C18,-54 25,-60 28,-70 L43,-70 Z" fill="#000" stroke="#000" stroke-width="0.9"/></g>
<g transform="translate(320.34,865.13) scale(0.23040,0.28800)"><text x="0.00" y="0" font-size="100" stroke="#000" stroke-width="0.9">4</text><text x="55.61" y="0" font-size="100" stroke="#000" stroke-width="0.9">4</text></g>
<g transform="translate(439.67,785.18) scale(0.23040,0.28800)"><text x="0.00" y="0" font-size="100" stroke="#000" stroke-width="0.9">4</text><path transform="translate(55.61,0)" d="M43,0 L28.5,0 L28.5,-48 C23,-44 16,-41.5 10,-40.5 L10,-52 C18,-54 25,-60 28,-70 L43,-70 Z" fill="#000" stroke="#000" stroke-width="0.9"/></g>
<g transform="translate(470.84,795.08) scale(0.23040,0.28800)"><text x="0.00" y="0" font-size="100" stroke="#000" stroke-width="0.9">4</text><text x="55.61" y="0" font-size="100" stroke="#000" stroke-width="0.9">2</text></g>
<g transform="translate(512.17,810.78) scale(0.23040,0.28800)"><text x="0.00" y="0" font-size="100" stroke="#000" stroke-width="0.9">3</text><text x="55.61" y="0" font-size="100" stroke="#000" stroke-width="0.9">9</text></g>
<g transform="translate(550.96,777.33) scale(0.23040,0.28800)"><path transform="translate(0.00,0)" d="M43,0 L28.5,0 L28.5,-48 C23,-44 16,-41.5 10,-40.5 L10,-52 C18,-54 25,-60 28,-70 L43,-70 Z" fill="#000" stroke="#000" stroke-width="0.9"/><text x="55.61" y="0" font-size="100" stroke="#000" stroke-width="0.9">0</text></g>
<g transform="translate(573.41,828.38) scale(0.23040,0.28800)"><text x="0.00" y="0" font-size="100" stroke="#000" stroke-width="0.9">9</text></g>
<g transform="translate(611.34,824.43) scale(0.23040,0.28800)"><text x="0.00" y="0" font-size="100" stroke="#000" stroke-width="0.9">4</text><text x="55.61" y="0" font-size="100" stroke="#000" stroke-width="0.9">0</text></g>
<g transform="translate(543.13,938.83) scale(0.23040,0.28800)"><text x="0.00" y="0" font-size="100" stroke="#000" stroke-width="0.9">4</text><text x="55.61" y="0" font-size="100" stroke="#000" stroke-width="0.9">3</text></g>
<g transform="translate(512.09,258.23) scale(0.23040,0.28800)"><text x="0.00" y="0" font-size="100" stroke="#000" stroke-width="0.9">5</text><path transform="translate(55.61,0)" d="M43,0 L28.5,0 L28.5,-48 C23,-44 16,-41.5 10,-40.5 L10,-52 C18,-54 25,-60 28,-70 L43,-70 Z" fill="#000" stroke="#000" stroke-width="0.9"/></g>
<g transform="translate(677.92,278.43) scale(0.23040,0.28800)"><text x="0.00" y="0" font-size="100" stroke="#000" stroke-width="0.9">2</text><text x="55.61" y="0" font-size="100" stroke="#000" stroke-width="0.9">7</text></g>
<g transform="translate(585.48,374.18) scale(0.23040,0.28800)"><text x="0.00" y="0" font-size="100" stroke="#000" stroke-width="0.9">4</text><text x="55.61" y="0" font-size="100" stroke="#000" stroke-width="0.9">9</text></g>
<g transform="translate(533.95,405.08) scale(0.23040,0.28800)"><path transform="translate(0.00,0)" d="M43,0 L28.5,0 L28.5,-48 C23,-44 16,-41.5 10,-40.5 L10,-52 C18,-54 25,-60 28,-70 L43,-70 Z" fill="#000" stroke="#000" stroke-width="0.9"/><text x="55.61" y="0" font-size="100" stroke="#000" stroke-width="0.9">6</text></g>
<g transform="translate(467.44,424.23) scale(0.23040,0.28800)"><text x="0.00" y="0" font-size="100" stroke="#000" stroke-width="0.9">2</text><path transform="translate(55.61,0)" d="M43,0 L28.5,0 L28.5,-48 C23,-44 16,-41.5 10,-40.5 L10,-52 C18,-54 25,-60 28,-70 L43,-70 Z" fill="#000" stroke="#000" stroke-width="0.9"/></g>
<g transform="translate(749.20,421.83) scale(0.23040,0.28800)"><text x="0.00" y="0" font-size="100" stroke="#000" stroke-width="0.9">3</text><path transform="translate(55.61,0)" d="M43,0 L28.5,0 L28.5,-48 C23,-44 16,-41.5 10,-40.5 L10,-52 C18,-54 25,-60 28,-70 L43,-70 Z" fill="#000" stroke="#000" stroke-width="0.9"/></g>
<g transform="translate(500.36,611.58) scale(0.23040,0.28800)"><text x="0.00" y="0" font-size="100" stroke="#000" stroke-width="0.9">6</text></g>
<g transform="translate(527.09,605.63) scale(0.23040,0.28800)"><path transform="translate(0.00,0)" d="M43,0 L28.5,0 L28.5,-48 C23,-44 16,-41.5 10,-40.5 L10,-52 C18,-54 25,-60 28,-70 L43,-70 Z" fill="#000" stroke="#000" stroke-width="0.9"/><path transform="translate(55.61,0)" d="M43,0 L28.5,0 L28.5,-48 C23,-44 16,-41.5 10,-40.5 L10,-52 C18,-54 25,-60 28,-70 L43,-70 Z" fill="#000" stroke="#000" stroke-width="0.9"/></g>
<g transform="translate(688.18,524.63) scale(0.23040,0.28800)"><text x="0.00" y="0" font-size="100" stroke="#000" stroke-width="0.9">3</text><text x="55.61" y="0" font-size="100" stroke="#000" stroke-width="0.9">7</text></g>
<g transform="translate(762.27,534.43) scale(0.23040,0.28800)"><text x="0.00" y="0" font-size="100" stroke="#000" stroke-width="0.9">3</text><text x="55.61" y="0" font-size="100" stroke="#000" stroke-width="0.9">6</text></g>
<g transform="translate(778.24,455.63) scale(0.23040,0.28800)"><text x="0.00" y="0" font-size="100" stroke="#000" stroke-width="0.9">2</text><text x="55.61" y="0" font-size="100" stroke="#000" stroke-width="0.9">5</text></g>
<g transform="translate(781.44,560.18) scale(0.23040,0.28800)"><text x="0.00" y="0" font-size="100" stroke="#000" stroke-width="0.9">2</text><text x="55.61" y="0" font-size="100" stroke="#000" stroke-width="0.9">8</text></g>
<g transform="translate(780.56,614.88) scale(0.23040,0.28800)"><text x="0.00" y="0" font-size="100" stroke="#000" stroke-width="0.9">7</text></g>
<g transform="translate(912.97,408.18) scale(0.23040,0.28800)"><text x="0.00" y="0" font-size="100" stroke="#000" stroke-width="0.9">4</text><text x="55.61" y="0" font-size="100" stroke="#000" stroke-width="0.9">8</text></g>
<g transform="translate(1033.25,439.53) scale(0.23040,0.28800)"><text x="0.00" y="0" font-size="100" stroke="#000" stroke-width="0.9">3</text><path transform="translate(55.61,0)" d="M43,0 L28.5,0 L28.5,-48 C23,-44 16,-41.5 10,-40.5 L10,-52 C18,-54 25,-60 28,-70 L43,-70 Z" fill="#000" stroke="#000" stroke-width="0.9"/></g>
<g transform="translate(924.35,472.48) scale(0.23040,0.28800)"><text x="0.00" y="0" font-size="100" stroke="#000" stroke-width="0.9">5</text></g>
<g transform="translate(1046.70,493.43) scale(0.23040,0.28800)"><text x="0.00" y="0" font-size="100" stroke="#000" stroke-width="0.9">3</text><text x="55.61" y="0" font-size="100" stroke="#000" stroke-width="0.9">5</text></g>
<g transform="translate(977.11,545.18) scale(0.23040,0.28800)"><text x="0.00" y="0" font-size="100" stroke="#000" stroke-width="0.9">5</text><text x="55.61" y="0" font-size="100" stroke="#000" stroke-width="0.9">4</text></g>
<g transform="translate(1022.90,536.78) scale(0.23040,0.28800)"><text x="0.00" y="0" font-size="100" stroke="#000" stroke-width="0.9">4</text><text x="55.61" y="0" font-size="100" stroke="#000" stroke-width="0.9">7</text></g>
<g transform="translate(1073.37,555.83) scale(0.23040,0.28800)"><text x="0.00" y="0" font-size="100" stroke="#000" stroke-width="0.9">3</text><text x="55.61" y="0" font-size="100" stroke="#000" stroke-width="0.9">0</text></g>
<g transform="translate(845.77,672.38) scale(0.23040,0.28800)"><text x="0.00" y="0" font-size="100" stroke="#000" stroke-width="0.9">4</text><text x="55.61" y="0" font-size="100" stroke="#000" stroke-width="0.9">5</text></g>
<g transform="translate(845.88,704.08) scale(0.23040,0.28800)"><text x="0.00" y="0" font-size="100" stroke="#000" stroke-width="0.9">4</text><text x="55.61" y="0" font-size="100" stroke="#000" stroke-width="0.9">6</text></g>
<g transform="translate(952.21,731.78) scale(0.23040,0.28800)"><path transform="translate(0.00,0)" d="M43,0 L28.5,0 L28.5,-48 C23,-44 16,-41.5 10,-40.5 L10,-52 C18,-54 25,-60 28,-70 L43,-70 Z" fill="#000" stroke="#000" stroke-width="0.9"/><text x="55.61" y="0" font-size="100" stroke="#000" stroke-width="0.9">4</text></g>
<g transform="translate(1075.03,673.28) scale(0.23040,0.28800)"><text x="0.00" y="0" font-size="100" stroke="#000" stroke-width="0.9">4</text><text x="55.61" y="0" font-size="100" stroke="#000" stroke-width="0.9">6</text></g>
<g transform="translate(1073.87,718.08) scale(0.23040,0.28800)"><text x="0.00" y="0" font-size="100" stroke="#000" stroke-width="0.9">4</text><text x="55.61" y="0" font-size="100" stroke="#000" stroke-width="0.9">5</text></g>
<g transform="translate(1038.47,815.68) scale(0.23040,0.28800)"><text x="0.00" y="0" font-size="100" stroke="#000" stroke-width="0.9">3</text><text x="55.61" y="0" font-size="100" stroke="#000" stroke-width="0.9">3</text></g>
<g transform="translate(779.25,50.48) scale(0.23040,0.28800)"><text x="0.00" y="0" font-size="100" stroke="#000" stroke-width="0.9">3</text><text x="55.61" y="0" font-size="100" stroke="#000" stroke-width="0.9">2</text></g>
<g transform="translate(933.31,39.58) scale(0.23040,0.28800)"><text x="0.00" y="0" font-size="100" stroke="#000" stroke-width="0.9">2</text></g>
<g transform="translate(785.14,105.18) scale(0.23040,0.28800)"><path transform="translate(0.00,0)" d="M43,0 L28.5,0 L28.5,-48 C23,-44 16,-41.5 10,-40.5 L10,-52 C18,-54 25,-60 28,-70 L43,-70 Z" fill="#000" stroke="#000" stroke-width="0.9"/><text x="55.61" y="0" font-size="100" stroke="#000" stroke-width="0.9">8</text></g>
<g transform="translate(775.95,137.08) scale(0.23040,0.28800)"><text x="0.00" y="0" font-size="100" stroke="#000" stroke-width="0.9">2</text><text x="55.61" y="0" font-size="100" stroke="#000" stroke-width="0.9">9</text></g>
<g transform="translate(761.76,177.28) scale(0.23040,0.28800)"><text x="0.00" y="0" font-size="100" stroke="#000" stroke-width="0.9">2</text><text x="55.61" y="0" font-size="100" stroke="#000" stroke-width="0.9">0</text></g>
<g transform="translate(1103.19,131.98) scale(0.23040,0.28800)"><text x="0.00" y="0" font-size="100" stroke="#000" stroke-width="0.9">4</text></g>
<g transform="translate(1098.66,185.58) scale(0.23040,0.28800)"><text x="0.00" y="0" font-size="100" stroke="#000" stroke-width="0.9">8</text></g>
<g transform="translate(1082.16,364.43) scale(0.23040,0.28800)"><text x="0.00" y="0" font-size="100" stroke="#000" stroke-width="0.9">5</text><text x="55.61" y="0" font-size="100" stroke="#000" stroke-width="0.9">3</text></g>
</svg></body></html>
